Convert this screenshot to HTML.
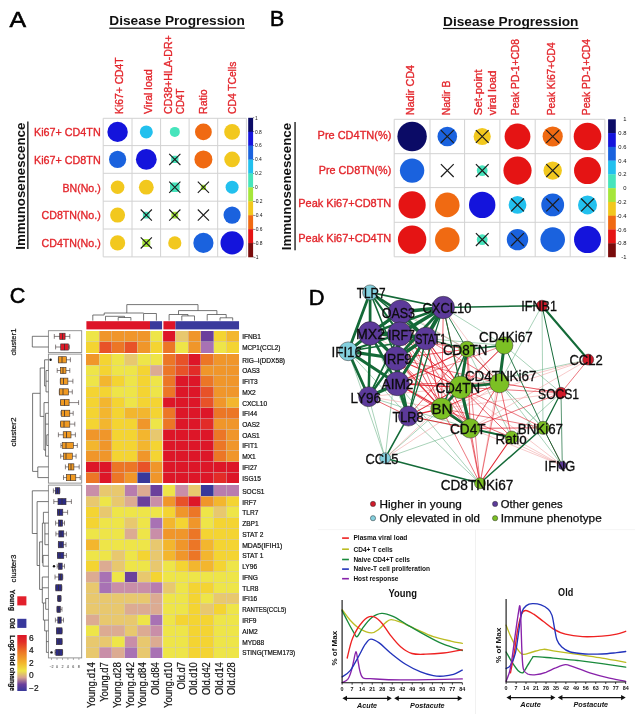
<!DOCTYPE html>
<html><head><meta charset="utf-8"><title>Figure</title>
<style>html,body{margin:0;padding:0;background:#fff}svg{display:block;filter:blur(0.45px)}text{font-family:"Liberation Sans", sans-serif}</style>
</head><body>
<svg width="635" height="714" viewBox="0 0 635 714">
<rect width="635" height="714" fill="#fff"/>
<text x="9.5" y="26.7" font-size="21.6" fill="#000" textLength="16.6" lengthAdjust="spacingAndGlyphs" stroke="#000" stroke-width="0.55">A</text>
<text x="270.0" y="26.4" font-size="21.6" fill="#000" textLength="14.2" lengthAdjust="spacingAndGlyphs" stroke="#000" stroke-width="0.55">B</text>
<text x="9.8" y="302.8" font-size="21.6" fill="#000" textLength="15.6" lengthAdjust="spacingAndGlyphs" stroke="#000" stroke-width="0.55">C</text>
<text x="308.8" y="305.2" font-size="21.6" fill="#000" textLength="15.8" lengthAdjust="spacingAndGlyphs" stroke="#000" stroke-width="0.55">D</text>
<text x="109.3" y="25.3" font-size="13.2" fill="#111" font-weight="bold" textLength="135.5" lengthAdjust="spacingAndGlyphs">Disease Progression</text>
<rect x="109.3" y="27.6" width="135.5" height="1.2" fill="#111"/>
<text x="443.0" y="25.6" font-size="13.2" fill="#111" font-weight="bold" textLength="135.5" lengthAdjust="spacingAndGlyphs">Disease Progression</text>
<rect x="443" y="27.9" width="135.5" height="1.2" fill="#111"/>
<text x="24.8" y="249.8" font-size="13.6" fill="#111" font-weight="bold" textLength="127.2" lengthAdjust="spacingAndGlyphs" transform="rotate(-90 24.8 249.8)">Immunosenescence</text>
<rect x="27.2" y="121.5" width="1.3" height="127.5" fill="#111"/>
<text x="291.4" y="250.3" font-size="13.6" fill="#111" font-weight="bold" textLength="127.5" lengthAdjust="spacingAndGlyphs" transform="rotate(-90 291.4 250.3)">Immunosenescence</text>
<rect x="294.4" y="122" width="1.3" height="128.3" fill="#111"/>
<g stroke="#d2d2d2" stroke-width="1" fill="none">
<line x1="103.2" y1="118.3" x2="103.2" y2="256.9"/>
<line x1="132.0" y1="118.3" x2="132.0" y2="256.9"/>
<line x1="160.6" y1="118.3" x2="160.6" y2="256.9"/>
<line x1="189.1" y1="118.3" x2="189.1" y2="256.9"/>
<line x1="217.7" y1="118.3" x2="217.7" y2="256.9"/>
<line x1="246.4" y1="118.3" x2="246.4" y2="256.9"/>
<line x1="103.2" y1="118.3" x2="246.4" y2="118.3"/>
<line x1="103.2" y1="145.6" x2="246.4" y2="145.6"/>
<line x1="103.2" y1="173.3" x2="246.4" y2="173.3"/>
<line x1="103.2" y1="201.2" x2="246.4" y2="201.2"/>
<line x1="103.2" y1="229.0" x2="246.4" y2="229.0"/>
<line x1="103.2" y1="256.9" x2="246.4" y2="256.9"/>
</g>
<circle cx="117.6" cy="131.9" r="10.2" fill="#1414dc"/>
<circle cx="146.3" cy="131.9" r="6.5" fill="#22c0ee"/>
<circle cx="174.8" cy="131.9" r="5.0" fill="#46e4bc"/>
<circle cx="203.4" cy="131.9" r="8.4" fill="#f06a12"/>
<circle cx="232.1" cy="131.9" r="7.9" fill="#f2c81e"/>
<circle cx="117.6" cy="159.4" r="8.6" fill="#1a62de"/>
<circle cx="146.3" cy="159.4" r="10.4" fill="#1414dc"/>
<rect x="171.2" y="155.8" width="7.2" height="7.2" rx="1.8" fill="#46e4bc"/>
<path d="M169.2 153.8L180.4 165.0M180.4 153.8L169.2 165.0" stroke="#1c1c1c" stroke-width="1.1" fill="none"/>
<circle cx="203.4" cy="159.4" r="9.0" fill="#f06a12"/>
<circle cx="232.1" cy="159.4" r="7.8" fill="#f2c81e"/>
<circle cx="117.6" cy="187.2" r="6.8" fill="#f2c81e"/>
<circle cx="146.3" cy="187.2" r="7.4" fill="#f2c81e"/>
<rect x="170.0" y="182.4" width="9.6" height="9.6" rx="2.4" fill="#46e4bc"/>
<path d="M169.2 181.7L180.4 192.8M180.4 181.7L169.2 192.8" stroke="#1c1c1c" stroke-width="1.1" fill="none"/>
<rect x="200.8" y="184.7" width="5.2" height="5.2" rx="1.3" fill="#a6e63a"/>
<path d="M197.8 181.7L209.0 192.8M209.0 181.7L197.8 192.8" stroke="#1c1c1c" stroke-width="1.1" fill="none"/>
<circle cx="232.1" cy="187.2" r="6.5" fill="#22c0ee"/>
<circle cx="117.6" cy="215.1" r="7.5" fill="#f2c81e"/>
<rect x="142.9" y="211.7" width="6.8" height="6.8" rx="1.7" fill="#46e4bc"/>
<path d="M140.7 209.5L151.9 220.7M151.9 209.5L140.7 220.7" stroke="#1c1c1c" stroke-width="1.1" fill="none"/>
<rect x="171.4" y="211.7" width="6.8" height="6.8" rx="1.7" fill="#a6e63a"/>
<path d="M169.2 209.5L180.4 220.7M180.4 209.5L169.2 220.7" stroke="#1c1c1c" stroke-width="1.1" fill="none"/>
<path d="M197.8 209.5L209.0 220.7M209.0 209.5L197.8 220.7" stroke="#1c1c1c" stroke-width="1.1" fill="none"/>
<circle cx="232.1" cy="215.1" r="8.6" fill="#1a62de"/>
<circle cx="117.6" cy="242.9" r="7.6" fill="#f2c81e"/>
<rect x="142.3" y="238.9" width="8.0" height="8.0" rx="2.0" fill="#a6e63a"/>
<path d="M140.7 237.3L151.9 248.5M151.9 237.3L140.7 248.5" stroke="#1c1c1c" stroke-width="1.1" fill="none"/>
<circle cx="174.8" cy="242.9" r="6.6" fill="#f2c81e"/>
<circle cx="203.4" cy="242.9" r="10.1" fill="#1a62de"/>
<circle cx="232.1" cy="242.9" r="11.6" fill="#1414dc"/>
<rect x="248.2" y="117.80" width="4.9" height="14.2" fill="#0b0b66"/>
<rect x="248.2" y="131.72" width="4.9" height="14.2" fill="#1414dc"/>
<rect x="248.2" y="145.64" width="4.9" height="14.2" fill="#1a62de"/>
<rect x="248.2" y="159.56" width="4.9" height="14.2" fill="#22c0ee"/>
<rect x="248.2" y="173.48" width="4.9" height="14.2" fill="#46e4bc"/>
<rect x="248.2" y="187.40" width="4.9" height="14.2" fill="#a6e63a"/>
<rect x="248.2" y="201.32" width="4.9" height="14.2" fill="#f2c81e"/>
<rect x="248.2" y="215.24" width="4.9" height="14.2" fill="#f06a12"/>
<rect x="248.2" y="229.16" width="4.9" height="14.2" fill="#e51414"/>
<rect x="248.2" y="243.08" width="4.9" height="14.2" fill="#7a0c0c"/>
<rect x="253" y="117.5" width="1.2" height="0.6" fill="#444"/>
<text x="255.0" y="119.6" font-size="4.9" fill="#111">1</text>
<rect x="253" y="131.4" width="1.2" height="0.6" fill="#444"/>
<text x="255.0" y="133.5" font-size="4.9" fill="#111">0.8</text>
<rect x="253" y="145.3" width="1.2" height="0.6" fill="#444"/>
<text x="255.0" y="147.4" font-size="4.9" fill="#111">0.6</text>
<rect x="253" y="159.3" width="1.2" height="0.6" fill="#444"/>
<text x="255.0" y="161.4" font-size="4.9" fill="#111">0.4</text>
<rect x="253" y="173.2" width="1.2" height="0.6" fill="#444"/>
<text x="255.0" y="175.3" font-size="4.9" fill="#111">0.2</text>
<rect x="253" y="187.1" width="1.2" height="0.6" fill="#444"/>
<text x="255.0" y="189.2" font-size="4.9" fill="#111">0</text>
<rect x="253" y="201.0" width="1.2" height="0.6" fill="#444"/>
<text x="254.0" y="203.1" font-size="4.9" fill="#111">-0.2</text>
<rect x="253" y="214.9" width="1.2" height="0.6" fill="#444"/>
<text x="254.0" y="217.0" font-size="4.9" fill="#111">-0.4</text>
<rect x="253" y="228.9" width="1.2" height="0.6" fill="#444"/>
<text x="254.0" y="231.0" font-size="4.9" fill="#111">-0.6</text>
<rect x="253" y="242.8" width="1.2" height="0.6" fill="#444"/>
<text x="254.0" y="244.9" font-size="4.9" fill="#111">-0.8</text>
<rect x="253" y="256.7" width="1.2" height="0.6" fill="#444"/>
<text x="254.0" y="258.8" font-size="4.9" fill="#111">-1</text>
<text x="122.7" y="113.9" font-size="11.2" fill="#e3262c" textLength="56.5" lengthAdjust="spacingAndGlyphs" transform="rotate(-90 122.7 113.9)" stroke="#e3262c" stroke-width="0.35">Ki67+ CD4T</text>
<text x="151.7" y="113.9" font-size="11.2" fill="#e3262c" textLength="44.6" lengthAdjust="spacingAndGlyphs" transform="rotate(-90 151.7 113.9)" stroke="#e3262c" stroke-width="0.35">Viral load</text>
<text x="171.7" y="113.9" font-size="11.2" fill="#e3262c" textLength="78.6" lengthAdjust="spacingAndGlyphs" transform="rotate(-90 171.7 113.9)" stroke="#e3262c" stroke-width="0.35">CD38+HLA-DR+</text>
<text x="184.3" y="113.9" font-size="11.2" fill="#e3262c" textLength="25.2" lengthAdjust="spacingAndGlyphs" transform="rotate(-90 184.3 113.9)" stroke="#e3262c" stroke-width="0.35">CD4T</text>
<text x="207.4" y="113.9" font-size="11.2" fill="#e3262c" textLength="24.5" lengthAdjust="spacingAndGlyphs" transform="rotate(-90 207.4 113.9)" stroke="#e3262c" stroke-width="0.35">Ratio</text>
<text x="235.9" y="113.9" font-size="11.2" fill="#e3262c" textLength="52.2" lengthAdjust="spacingAndGlyphs" transform="rotate(-90 235.9 113.9)" stroke="#e3262c" stroke-width="0.35">CD4 TCells</text>
<text x="34.0" y="135.6" font-size="11.2" fill="#e3262c" textLength="66.7" lengthAdjust="spacingAndGlyphs" stroke="#e3262c" stroke-width="0.35">Ki67+ CD4TN</text>
<text x="34.0" y="163.7" font-size="11.2" fill="#e3262c" textLength="66.7" lengthAdjust="spacingAndGlyphs" stroke="#e3262c" stroke-width="0.35">Ki67+ CD8TN</text>
<text x="62.5" y="191.6" font-size="11.2" fill="#e3262c" textLength="38.2" lengthAdjust="spacingAndGlyphs" stroke="#e3262c" stroke-width="0.35">BN(No.)</text>
<text x="41.6" y="219.3" font-size="11.2" fill="#e3262c" textLength="59.1" lengthAdjust="spacingAndGlyphs" stroke="#e3262c" stroke-width="0.35">CD8TN(No.)</text>
<text x="41.6" y="247.0" font-size="11.2" fill="#e3262c" textLength="59.1" lengthAdjust="spacingAndGlyphs" stroke="#e3262c" stroke-width="0.35">CD4TN(No.)</text>
<g stroke="#d2d2d2" stroke-width="1" fill="none">
<line x1="394.2" y1="119.3" x2="394.2" y2="256.8"/>
<line x1="430.0" y1="119.3" x2="430.0" y2="256.8"/>
<line x1="464.6" y1="119.3" x2="464.6" y2="256.8"/>
<line x1="499.9" y1="119.3" x2="499.9" y2="256.8"/>
<line x1="535.2" y1="119.3" x2="535.2" y2="256.8"/>
<line x1="570.2" y1="119.3" x2="570.2" y2="256.8"/>
<line x1="604.9" y1="119.3" x2="604.9" y2="256.8"/>
<line x1="394.2" y1="119.3" x2="604.9" y2="119.3"/>
<line x1="394.2" y1="153.7" x2="604.9" y2="153.7"/>
<line x1="394.2" y1="187.6" x2="604.9" y2="187.6"/>
<line x1="394.2" y1="222.3" x2="604.9" y2="222.3"/>
<line x1="394.2" y1="256.8" x2="604.9" y2="256.8"/>
</g>
<circle cx="412.1" cy="136.5" r="14.7" fill="#0b0b66"/>
<circle cx="447.3" cy="136.5" r="9.8" fill="#1a62de"/>
<path d="M440.9 130.1L453.7 142.9M453.7 130.1L440.9 142.9" stroke="#1c1c1c" stroke-width="1.2" fill="none"/>
<circle cx="482.2" cy="136.5" r="8.6" fill="#f2c81e"/>
<path d="M475.9 130.1L488.6 142.9M488.6 130.1L475.9 142.9" stroke="#1c1c1c" stroke-width="1.2" fill="none"/>
<circle cx="517.5" cy="136.5" r="12.9" fill="#e51414"/>
<circle cx="552.7" cy="136.5" r="10.1" fill="#f06a12"/>
<path d="M546.3 130.1L559.1 142.9M559.1 130.1L546.3 142.9" stroke="#1c1c1c" stroke-width="1.2" fill="none"/>
<circle cx="587.5" cy="136.5" r="13.8" fill="#e51414"/>
<circle cx="412.1" cy="170.6" r="12.2" fill="#1a62de"/>
<path d="M440.9 164.2L453.7 177.0M453.7 164.2L440.9 177.0" stroke="#1c1c1c" stroke-width="1.2" fill="none"/>
<circle cx="482.2" cy="170.6" r="5.4" fill="#46e4bc"/>
<path d="M475.9 164.2L488.6 177.0M488.6 164.2L475.9 177.0" stroke="#1c1c1c" stroke-width="1.2" fill="none"/>
<circle cx="517.5" cy="170.6" r="14.1" fill="#e51414"/>
<circle cx="552.7" cy="170.6" r="9.2" fill="#f2c81e"/>
<path d="M546.3 164.2L559.1 177.0M559.1 164.2L546.3 177.0" stroke="#1c1c1c" stroke-width="1.2" fill="none"/>
<circle cx="587.5" cy="170.6" r="13.5" fill="#e51414"/>
<circle cx="412.1" cy="204.9" r="13.6" fill="#e51414"/>
<circle cx="447.3" cy="204.9" r="12.3" fill="#f06a12"/>
<circle cx="482.2" cy="204.9" r="13.2" fill="#1414dc"/>
<circle cx="517.5" cy="204.9" r="8.9" fill="#22c0ee"/>
<path d="M511.1 198.5L523.9 211.3M523.9 198.5L511.1 211.3" stroke="#1c1c1c" stroke-width="1.2" fill="none"/>
<circle cx="552.7" cy="204.9" r="11.4" fill="#1a62de"/>
<path d="M546.3 198.5L559.1 211.3M559.1 198.5L546.3 211.3" stroke="#1c1c1c" stroke-width="1.2" fill="none"/>
<circle cx="587.5" cy="204.9" r="9.5" fill="#22c0ee"/>
<path d="M581.1 198.5L593.9 211.3M593.9 198.5L581.1 211.3" stroke="#1c1c1c" stroke-width="1.2" fill="none"/>
<circle cx="412.1" cy="239.6" r="14.2" fill="#e51414"/>
<circle cx="447.3" cy="239.6" r="12.3" fill="#f06a12"/>
<circle cx="482.2" cy="239.6" r="5.4" fill="#46e4bc"/>
<path d="M475.9 233.2L488.6 246.0M488.6 233.2L475.9 246.0" stroke="#1c1c1c" stroke-width="1.2" fill="none"/>
<circle cx="517.5" cy="239.6" r="10.7" fill="#1a62de"/>
<path d="M511.1 233.2L523.9 246.0M523.9 233.2L511.1 246.0" stroke="#1c1c1c" stroke-width="1.2" fill="none"/>
<circle cx="552.7" cy="239.6" r="12.3" fill="#1a62de"/>
<circle cx="587.5" cy="239.6" r="13.5" fill="#1414dc"/>
<rect x="608.1" y="119.30" width="7.7" height="14.0" fill="#0b0b66"/>
<rect x="608.1" y="133.07" width="7.7" height="14.0" fill="#1414dc"/>
<rect x="608.1" y="146.84" width="7.7" height="14.0" fill="#1a62de"/>
<rect x="608.1" y="160.61" width="7.7" height="14.0" fill="#22c0ee"/>
<rect x="608.1" y="174.38" width="7.7" height="14.0" fill="#46e4bc"/>
<rect x="608.1" y="188.15" width="7.7" height="14.0" fill="#a6e63a"/>
<rect x="608.1" y="201.92" width="7.7" height="14.0" fill="#f2c81e"/>
<rect x="608.1" y="215.69" width="7.7" height="14.0" fill="#f06a12"/>
<rect x="608.1" y="229.46" width="7.7" height="14.0" fill="#e51414"/>
<rect x="608.1" y="243.23" width="7.7" height="14.0" fill="#7a0c0c"/>
<text x="626.4" y="121.3" font-size="5.8" fill="#111" text-anchor="end">1</text>
<text x="626.4" y="135.1" font-size="5.8" fill="#111" text-anchor="end">0.8</text>
<text x="626.4" y="148.8" font-size="5.8" fill="#111" text-anchor="end">0.6</text>
<text x="626.4" y="162.6" font-size="5.8" fill="#111" text-anchor="end">0.4</text>
<text x="626.4" y="176.4" font-size="5.8" fill="#111" text-anchor="end">0.2</text>
<text x="626.4" y="190.1" font-size="5.8" fill="#111" text-anchor="end">0</text>
<text x="626.4" y="203.9" font-size="5.8" fill="#111" text-anchor="end">-0.2</text>
<text x="626.4" y="217.7" font-size="5.8" fill="#111" text-anchor="end">-0.4</text>
<text x="626.4" y="231.5" font-size="5.8" fill="#111" text-anchor="end">-0.6</text>
<text x="626.4" y="245.2" font-size="5.8" fill="#111" text-anchor="end">-0.8</text>
<text x="626.4" y="259.0" font-size="5.8" fill="#111" text-anchor="end">-1</text>
<text x="414.3" y="115.3" font-size="11.2" fill="#e3262c" textLength="50.4" lengthAdjust="spacingAndGlyphs" transform="rotate(-90 414.3 115.3)" stroke="#e3262c" stroke-width="0.35">Nadir CD4</text>
<text x="449.8" y="115.2" font-size="11.2" fill="#e3262c" textLength="34.5" lengthAdjust="spacingAndGlyphs" transform="rotate(-90 449.8 115.2)" stroke="#e3262c" stroke-width="0.35">Nadir B</text>
<text x="482.3" y="115.2" font-size="11.2" fill="#e3262c" textLength="45.7" lengthAdjust="spacingAndGlyphs" transform="rotate(-90 482.3 115.2)" stroke="#e3262c" stroke-width="0.35">Set-point</text>
<text x="495.8" y="115.2" font-size="11.2" fill="#e3262c" textLength="44.7" lengthAdjust="spacingAndGlyphs" transform="rotate(-90 495.8 115.2)" stroke="#e3262c" stroke-width="0.35">viral load</text>
<text x="519.5" y="115.2" font-size="11.2" fill="#e3262c" textLength="76.2" lengthAdjust="spacingAndGlyphs" transform="rotate(-90 519.5 115.2)" stroke="#e3262c" stroke-width="0.35">Peak PD-1+CD8</text>
<text x="555.1" y="115.2" font-size="11.2" fill="#e3262c" textLength="72.8" lengthAdjust="spacingAndGlyphs" transform="rotate(-90 555.1 115.2)" stroke="#e3262c" stroke-width="0.35">Peak Ki67+CD4</text>
<text x="590.3" y="115.2" font-size="11.2" fill="#e3262c" textLength="76.2" lengthAdjust="spacingAndGlyphs" transform="rotate(-90 590.3 115.2)" stroke="#e3262c" stroke-width="0.35">Peak PD-1+CD4</text>
<text x="317.6" y="138.9" font-size="11.2" fill="#e3262c" textLength="73.7" lengthAdjust="spacingAndGlyphs" stroke="#e3262c" stroke-width="0.35">Pre CD4TN(%)</text>
<text x="318.8" y="173.5" font-size="11.2" fill="#e3262c" textLength="72.5" lengthAdjust="spacingAndGlyphs" stroke="#e3262c" stroke-width="0.35">Pre CD8TN(%)</text>
<text x="298.3" y="206.9" font-size="11.2" fill="#e3262c" textLength="93.0" lengthAdjust="spacingAndGlyphs" stroke="#e3262c" stroke-width="0.35">Peak Ki67+CD8TN</text>
<text x="298.3" y="241.5" font-size="11.2" fill="#e3262c" textLength="93.0" lengthAdjust="spacingAndGlyphs" stroke="#e3262c" stroke-width="0.35">Peak Ki67+CD4TN</text>
<g shape-rendering="crispEdges">
<rect x="86.40" y="331.00" width="13.02" height="11.00" fill="#eee548"/>
<rect x="99.12" y="331.00" width="13.02" height="11.00" fill="#f0962a"/>
<rect x="111.84" y="331.00" width="13.02" height="11.00" fill="#f0962a"/>
<rect x="124.56" y="331.00" width="13.02" height="11.00" fill="#f0962a"/>
<rect x="137.28" y="331.00" width="13.02" height="11.00" fill="#f0962a"/>
<rect x="150.00" y="331.00" width="13.02" height="11.00" fill="#eee548"/>
<rect x="162.72" y="331.00" width="13.02" height="11.00" fill="#dd1628"/>
<rect x="175.44" y="331.00" width="13.02" height="11.00" fill="#e8c86e"/>
<rect x="188.16" y="331.00" width="13.02" height="11.00" fill="#f0962a"/>
<rect x="200.88" y="331.00" width="13.02" height="11.00" fill="#6b3f9c"/>
<rect x="213.60" y="331.00" width="13.02" height="11.00" fill="#f4d432"/>
<rect x="226.32" y="331.00" width="13.02" height="11.00" fill="#f3b62e"/>
<rect x="86.40" y="341.70" width="13.02" height="11.00" fill="#f4d432"/>
<rect x="99.12" y="341.70" width="13.02" height="11.00" fill="#e85228"/>
<rect x="111.84" y="341.70" width="13.02" height="11.00" fill="#ec7626"/>
<rect x="124.56" y="341.70" width="13.02" height="11.00" fill="#e85228"/>
<rect x="137.28" y="341.70" width="13.02" height="11.00" fill="#f0962a"/>
<rect x="150.00" y="341.70" width="13.02" height="11.00" fill="#f4d432"/>
<rect x="162.72" y="341.70" width="13.02" height="11.00" fill="#ec7626"/>
<rect x="175.44" y="341.70" width="13.02" height="11.00" fill="#eee548"/>
<rect x="188.16" y="341.70" width="13.02" height="11.00" fill="#f0962a"/>
<rect x="200.88" y="341.70" width="13.02" height="11.00" fill="#a872b4"/>
<rect x="213.60" y="341.70" width="13.02" height="11.00" fill="#eee548"/>
<rect x="226.32" y="341.70" width="13.02" height="11.00" fill="#f4d432"/>
<g stroke="#cdc8c6" stroke-width="0.6" opacity="0.8">
<line x1="86.4" y1="341.70" x2="239.04" y2="341.70"/>
<line x1="99.12" y1="331.0" x2="99.12" y2="352.4"/>
<line x1="111.84" y1="331.0" x2="111.84" y2="352.4"/>
<line x1="124.56" y1="331.0" x2="124.56" y2="352.4"/>
<line x1="137.28" y1="331.0" x2="137.28" y2="352.4"/>
<line x1="150.00" y1="331.0" x2="150.00" y2="352.4"/>
<line x1="162.72" y1="331.0" x2="162.72" y2="352.4"/>
<line x1="175.44" y1="331.0" x2="175.44" y2="352.4"/>
<line x1="188.16" y1="331.0" x2="188.16" y2="352.4"/>
<line x1="200.88" y1="331.0" x2="200.88" y2="352.4"/>
<line x1="213.60" y1="331.0" x2="213.60" y2="352.4"/>
<line x1="226.32" y1="331.0" x2="226.32" y2="352.4"/>
</g>
<rect x="86.40" y="354.40" width="13.02" height="11.02" fill="#f0962a"/>
<rect x="99.12" y="354.40" width="13.02" height="11.02" fill="#f4d432"/>
<rect x="111.84" y="354.40" width="13.02" height="11.02" fill="#eee548"/>
<rect x="124.56" y="354.40" width="13.02" height="11.02" fill="#e8c86e"/>
<rect x="137.28" y="354.40" width="13.02" height="11.02" fill="#eee548"/>
<rect x="150.00" y="354.40" width="13.02" height="11.02" fill="#eee548"/>
<rect x="162.72" y="354.40" width="13.02" height="11.02" fill="#ec7626"/>
<rect x="175.44" y="354.40" width="13.02" height="11.02" fill="#e85228"/>
<rect x="188.16" y="354.40" width="13.02" height="11.02" fill="#dd1628"/>
<rect x="200.88" y="354.40" width="13.02" height="11.02" fill="#ec7626"/>
<rect x="213.60" y="354.40" width="13.02" height="11.02" fill="#f0962a"/>
<rect x="226.32" y="354.40" width="13.02" height="11.02" fill="#f0962a"/>
<rect x="86.40" y="365.12" width="13.02" height="11.02" fill="#eee548"/>
<rect x="99.12" y="365.12" width="13.02" height="11.02" fill="#f4d432"/>
<rect x="111.84" y="365.12" width="13.02" height="11.02" fill="#eee548"/>
<rect x="124.56" y="365.12" width="13.02" height="11.02" fill="#eee548"/>
<rect x="137.28" y="365.12" width="13.02" height="11.02" fill="#f4d432"/>
<rect x="150.00" y="365.12" width="13.02" height="11.02" fill="#dcab92"/>
<rect x="162.72" y="365.12" width="13.02" height="11.02" fill="#ec7626"/>
<rect x="175.44" y="365.12" width="13.02" height="11.02" fill="#e85228"/>
<rect x="188.16" y="365.12" width="13.02" height="11.02" fill="#e22c28"/>
<rect x="200.88" y="365.12" width="13.02" height="11.02" fill="#f0962a"/>
<rect x="213.60" y="365.12" width="13.02" height="11.02" fill="#f0962a"/>
<rect x="226.32" y="365.12" width="13.02" height="11.02" fill="#f0962a"/>
<rect x="86.40" y="375.83" width="13.02" height="11.02" fill="#eee548"/>
<rect x="99.12" y="375.83" width="13.02" height="11.02" fill="#f3b62e"/>
<rect x="111.84" y="375.83" width="13.02" height="11.02" fill="#f4d432"/>
<rect x="124.56" y="375.83" width="13.02" height="11.02" fill="#eee548"/>
<rect x="137.28" y="375.83" width="13.02" height="11.02" fill="#f4d432"/>
<rect x="150.00" y="375.83" width="13.02" height="11.02" fill="#eee548"/>
<rect x="162.72" y="375.83" width="13.02" height="11.02" fill="#ec7626"/>
<rect x="175.44" y="375.83" width="13.02" height="11.02" fill="#dd1628"/>
<rect x="188.16" y="375.83" width="13.02" height="11.02" fill="#dd1628"/>
<rect x="200.88" y="375.83" width="13.02" height="11.02" fill="#ec7626"/>
<rect x="213.60" y="375.83" width="13.02" height="11.02" fill="#f0962a"/>
<rect x="226.32" y="375.83" width="13.02" height="11.02" fill="#f0962a"/>
<rect x="86.40" y="386.55" width="13.02" height="11.02" fill="#f4d432"/>
<rect x="99.12" y="386.55" width="13.02" height="11.02" fill="#f4d432"/>
<rect x="111.84" y="386.55" width="13.02" height="11.02" fill="#eee548"/>
<rect x="124.56" y="386.55" width="13.02" height="11.02" fill="#eee548"/>
<rect x="137.28" y="386.55" width="13.02" height="11.02" fill="#f4d432"/>
<rect x="150.00" y="386.55" width="13.02" height="11.02" fill="#eee548"/>
<rect x="162.72" y="386.55" width="13.02" height="11.02" fill="#ec7626"/>
<rect x="175.44" y="386.55" width="13.02" height="11.02" fill="#dd1628"/>
<rect x="188.16" y="386.55" width="13.02" height="11.02" fill="#dd1628"/>
<rect x="200.88" y="386.55" width="13.02" height="11.02" fill="#e85228"/>
<rect x="213.60" y="386.55" width="13.02" height="11.02" fill="#f0962a"/>
<rect x="226.32" y="386.55" width="13.02" height="11.02" fill="#f0962a"/>
<rect x="86.40" y="397.27" width="13.02" height="11.02" fill="#f4d432"/>
<rect x="99.12" y="397.27" width="13.02" height="11.02" fill="#f3b62e"/>
<rect x="111.84" y="397.27" width="13.02" height="11.02" fill="#f4d432"/>
<rect x="124.56" y="397.27" width="13.02" height="11.02" fill="#eee548"/>
<rect x="137.28" y="397.27" width="13.02" height="11.02" fill="#f4d432"/>
<rect x="150.00" y="397.27" width="13.02" height="11.02" fill="#f4d432"/>
<rect x="162.72" y="397.27" width="13.02" height="11.02" fill="#dd1628"/>
<rect x="175.44" y="397.27" width="13.02" height="11.02" fill="#dd1628"/>
<rect x="188.16" y="397.27" width="13.02" height="11.02" fill="#dd1628"/>
<rect x="200.88" y="397.27" width="13.02" height="11.02" fill="#e85228"/>
<rect x="213.60" y="397.27" width="13.02" height="11.02" fill="#f0962a"/>
<rect x="226.32" y="397.27" width="13.02" height="11.02" fill="#f3b62e"/>
<rect x="86.40" y="407.98" width="13.02" height="11.02" fill="#f4d432"/>
<rect x="99.12" y="407.98" width="13.02" height="11.02" fill="#f3b62e"/>
<rect x="111.84" y="407.98" width="13.02" height="11.02" fill="#f4d432"/>
<rect x="124.56" y="407.98" width="13.02" height="11.02" fill="#f3b62e"/>
<rect x="137.28" y="407.98" width="13.02" height="11.02" fill="#f3b62e"/>
<rect x="150.00" y="407.98" width="13.02" height="11.02" fill="#f4d432"/>
<rect x="162.72" y="407.98" width="13.02" height="11.02" fill="#ec7626"/>
<rect x="175.44" y="407.98" width="13.02" height="11.02" fill="#dd1628"/>
<rect x="188.16" y="407.98" width="13.02" height="11.02" fill="#dd1628"/>
<rect x="200.88" y="407.98" width="13.02" height="11.02" fill="#dd1628"/>
<rect x="213.60" y="407.98" width="13.02" height="11.02" fill="#ec7626"/>
<rect x="226.32" y="407.98" width="13.02" height="11.02" fill="#ec7626"/>
<rect x="86.40" y="418.70" width="13.02" height="11.02" fill="#f4d432"/>
<rect x="99.12" y="418.70" width="13.02" height="11.02" fill="#f3b62e"/>
<rect x="111.84" y="418.70" width="13.02" height="11.02" fill="#f4d432"/>
<rect x="124.56" y="418.70" width="13.02" height="11.02" fill="#f4d432"/>
<rect x="137.28" y="418.70" width="13.02" height="11.02" fill="#f0962a"/>
<rect x="150.00" y="418.70" width="13.02" height="11.02" fill="#eee548"/>
<rect x="162.72" y="418.70" width="13.02" height="11.02" fill="#ec7626"/>
<rect x="175.44" y="418.70" width="13.02" height="11.02" fill="#dd1628"/>
<rect x="188.16" y="418.70" width="13.02" height="11.02" fill="#dd1628"/>
<rect x="200.88" y="418.70" width="13.02" height="11.02" fill="#e22c28"/>
<rect x="213.60" y="418.70" width="13.02" height="11.02" fill="#f0962a"/>
<rect x="226.32" y="418.70" width="13.02" height="11.02" fill="#f0962a"/>
<rect x="86.40" y="429.42" width="13.02" height="11.02" fill="#f0962a"/>
<rect x="99.12" y="429.42" width="13.02" height="11.02" fill="#f0962a"/>
<rect x="111.84" y="429.42" width="13.02" height="11.02" fill="#f4d432"/>
<rect x="124.56" y="429.42" width="13.02" height="11.02" fill="#f4d432"/>
<rect x="137.28" y="429.42" width="13.02" height="11.02" fill="#f3b62e"/>
<rect x="150.00" y="429.42" width="13.02" height="11.02" fill="#e8c86e"/>
<rect x="162.72" y="429.42" width="13.02" height="11.02" fill="#dd1628"/>
<rect x="175.44" y="429.42" width="13.02" height="11.02" fill="#dd1628"/>
<rect x="188.16" y="429.42" width="13.02" height="11.02" fill="#dd1628"/>
<rect x="200.88" y="429.42" width="13.02" height="11.02" fill="#dd1628"/>
<rect x="213.60" y="429.42" width="13.02" height="11.02" fill="#ec7626"/>
<rect x="226.32" y="429.42" width="13.02" height="11.02" fill="#f0962a"/>
<rect x="86.40" y="440.13" width="13.02" height="11.02" fill="#f3b62e"/>
<rect x="99.12" y="440.13" width="13.02" height="11.02" fill="#f0962a"/>
<rect x="111.84" y="440.13" width="13.02" height="11.02" fill="#f4d432"/>
<rect x="124.56" y="440.13" width="13.02" height="11.02" fill="#f4d432"/>
<rect x="137.28" y="440.13" width="13.02" height="11.02" fill="#f3b62e"/>
<rect x="150.00" y="440.13" width="13.02" height="11.02" fill="#f4d432"/>
<rect x="162.72" y="440.13" width="13.02" height="11.02" fill="#dd1628"/>
<rect x="175.44" y="440.13" width="13.02" height="11.02" fill="#dd1628"/>
<rect x="188.16" y="440.13" width="13.02" height="11.02" fill="#dd1628"/>
<rect x="200.88" y="440.13" width="13.02" height="11.02" fill="#dd1628"/>
<rect x="213.60" y="440.13" width="13.02" height="11.02" fill="#ec7626"/>
<rect x="226.32" y="440.13" width="13.02" height="11.02" fill="#f0962a"/>
<rect x="86.40" y="450.85" width="13.02" height="11.02" fill="#f0962a"/>
<rect x="99.12" y="450.85" width="13.02" height="11.02" fill="#f0962a"/>
<rect x="111.84" y="450.85" width="13.02" height="11.02" fill="#f4d432"/>
<rect x="124.56" y="450.85" width="13.02" height="11.02" fill="#f4d432"/>
<rect x="137.28" y="450.85" width="13.02" height="11.02" fill="#f0962a"/>
<rect x="150.00" y="450.85" width="13.02" height="11.02" fill="#f4d432"/>
<rect x="162.72" y="450.85" width="13.02" height="11.02" fill="#dd1628"/>
<rect x="175.44" y="450.85" width="13.02" height="11.02" fill="#dd1628"/>
<rect x="188.16" y="450.85" width="13.02" height="11.02" fill="#dd1628"/>
<rect x="200.88" y="450.85" width="13.02" height="11.02" fill="#dd1628"/>
<rect x="213.60" y="450.85" width="13.02" height="11.02" fill="#ec7626"/>
<rect x="226.32" y="450.85" width="13.02" height="11.02" fill="#f0962a"/>
<rect x="86.40" y="461.57" width="13.02" height="11.02" fill="#dd1628"/>
<rect x="99.12" y="461.57" width="13.02" height="11.02" fill="#dd1628"/>
<rect x="111.84" y="461.57" width="13.02" height="11.02" fill="#ec7626"/>
<rect x="124.56" y="461.57" width="13.02" height="11.02" fill="#ec7626"/>
<rect x="137.28" y="461.57" width="13.02" height="11.02" fill="#e85228"/>
<rect x="150.00" y="461.57" width="13.02" height="11.02" fill="#f0962a"/>
<rect x="162.72" y="461.57" width="13.02" height="11.02" fill="#dd1628"/>
<rect x="175.44" y="461.57" width="13.02" height="11.02" fill="#dd1628"/>
<rect x="188.16" y="461.57" width="13.02" height="11.02" fill="#dd1628"/>
<rect x="200.88" y="461.57" width="13.02" height="11.02" fill="#dd1628"/>
<rect x="213.60" y="461.57" width="13.02" height="11.02" fill="#dd1628"/>
<rect x="226.32" y="461.57" width="13.02" height="11.02" fill="#dd1628"/>
<rect x="86.40" y="472.28" width="13.02" height="11.02" fill="#ec7626"/>
<rect x="99.12" y="472.28" width="13.02" height="11.02" fill="#dd1628"/>
<rect x="111.84" y="472.28" width="13.02" height="11.02" fill="#ec7626"/>
<rect x="124.56" y="472.28" width="13.02" height="11.02" fill="#f0962a"/>
<rect x="137.28" y="472.28" width="13.02" height="11.02" fill="#38389a"/>
<rect x="150.00" y="472.28" width="13.02" height="11.02" fill="#f0962a"/>
<rect x="162.72" y="472.28" width="13.02" height="11.02" fill="#dd1628"/>
<rect x="175.44" y="472.28" width="13.02" height="11.02" fill="#dd1628"/>
<rect x="188.16" y="472.28" width="13.02" height="11.02" fill="#dd1628"/>
<rect x="200.88" y="472.28" width="13.02" height="11.02" fill="#dd1628"/>
<rect x="213.60" y="472.28" width="13.02" height="11.02" fill="#e22c28"/>
<rect x="226.32" y="472.28" width="13.02" height="11.02" fill="#dd1628"/>
<g stroke="#cdc8c6" stroke-width="0.6" opacity="0.8">
<line x1="86.4" y1="365.12" x2="239.04" y2="365.12"/>
<line x1="86.4" y1="375.83" x2="239.04" y2="375.83"/>
<line x1="86.4" y1="386.55" x2="239.04" y2="386.55"/>
<line x1="86.4" y1="397.27" x2="239.04" y2="397.27"/>
<line x1="86.4" y1="407.98" x2="239.04" y2="407.98"/>
<line x1="86.4" y1="418.70" x2="239.04" y2="418.70"/>
<line x1="86.4" y1="429.42" x2="239.04" y2="429.42"/>
<line x1="86.4" y1="440.13" x2="239.04" y2="440.13"/>
<line x1="86.4" y1="450.85" x2="239.04" y2="450.85"/>
<line x1="86.4" y1="461.57" x2="239.04" y2="461.57"/>
<line x1="86.4" y1="472.28" x2="239.04" y2="472.28"/>
<line x1="99.12" y1="354.4" x2="99.12" y2="483.0"/>
<line x1="111.84" y1="354.4" x2="111.84" y2="483.0"/>
<line x1="124.56" y1="354.4" x2="124.56" y2="483.0"/>
<line x1="137.28" y1="354.4" x2="137.28" y2="483.0"/>
<line x1="150.00" y1="354.4" x2="150.00" y2="483.0"/>
<line x1="162.72" y1="354.4" x2="162.72" y2="483.0"/>
<line x1="175.44" y1="354.4" x2="175.44" y2="483.0"/>
<line x1="188.16" y1="354.4" x2="188.16" y2="483.0"/>
<line x1="200.88" y1="354.4" x2="200.88" y2="483.0"/>
<line x1="213.60" y1="354.4" x2="213.60" y2="483.0"/>
<line x1="226.32" y1="354.4" x2="226.32" y2="483.0"/>
</g>
<rect x="86.40" y="485.40" width="13.02" height="11.07" fill="#c98ea8"/>
<rect x="99.12" y="485.40" width="13.02" height="11.07" fill="#e8c86e"/>
<rect x="111.84" y="485.40" width="13.02" height="11.07" fill="#e8c86e"/>
<rect x="124.56" y="485.40" width="13.02" height="11.07" fill="#b87cae"/>
<rect x="137.28" y="485.40" width="13.02" height="11.07" fill="#dcab92"/>
<rect x="150.00" y="485.40" width="13.02" height="11.07" fill="#6b3f9c"/>
<rect x="162.72" y="485.40" width="13.02" height="11.07" fill="#eee548"/>
<rect x="175.44" y="485.40" width="13.02" height="11.07" fill="#c98ea8"/>
<rect x="188.16" y="485.40" width="13.02" height="11.07" fill="#e8c86e"/>
<rect x="200.88" y="485.40" width="13.02" height="11.07" fill="#38389a"/>
<rect x="213.60" y="485.40" width="13.02" height="11.07" fill="#b87cae"/>
<rect x="226.32" y="485.40" width="13.02" height="11.07" fill="#b87cae"/>
<rect x="86.40" y="496.17" width="13.02" height="11.07" fill="#e8c86e"/>
<rect x="99.12" y="496.17" width="13.02" height="11.07" fill="#eee548"/>
<rect x="111.84" y="496.17" width="13.02" height="11.07" fill="#e8c86e"/>
<rect x="124.56" y="496.17" width="13.02" height="11.07" fill="#dcab92"/>
<rect x="137.28" y="496.17" width="13.02" height="11.07" fill="#6b3f9c"/>
<rect x="150.00" y="496.17" width="13.02" height="11.07" fill="#c98ea8"/>
<rect x="162.72" y="496.17" width="13.02" height="11.07" fill="#f0962a"/>
<rect x="175.44" y="496.17" width="13.02" height="11.07" fill="#e85228"/>
<rect x="188.16" y="496.17" width="13.02" height="11.07" fill="#dd1628"/>
<rect x="200.88" y="496.17" width="13.02" height="11.07" fill="#f0962a"/>
<rect x="213.60" y="496.17" width="13.02" height="11.07" fill="#f3b62e"/>
<rect x="226.32" y="496.17" width="13.02" height="11.07" fill="#f4d432"/>
<rect x="86.40" y="506.95" width="13.02" height="11.07" fill="#f4d432"/>
<rect x="99.12" y="506.95" width="13.02" height="11.07" fill="#e8c86e"/>
<rect x="111.84" y="506.95" width="13.02" height="11.07" fill="#eee548"/>
<rect x="124.56" y="506.95" width="13.02" height="11.07" fill="#eee548"/>
<rect x="137.28" y="506.95" width="13.02" height="11.07" fill="#eee548"/>
<rect x="150.00" y="506.95" width="13.02" height="11.07" fill="#eee548"/>
<rect x="162.72" y="506.95" width="13.02" height="11.07" fill="#f4d432"/>
<rect x="175.44" y="506.95" width="13.02" height="11.07" fill="#f0962a"/>
<rect x="188.16" y="506.95" width="13.02" height="11.07" fill="#ec7626"/>
<rect x="200.88" y="506.95" width="13.02" height="11.07" fill="#eee548"/>
<rect x="213.60" y="506.95" width="13.02" height="11.07" fill="#e8c86e"/>
<rect x="226.32" y="506.95" width="13.02" height="11.07" fill="#eee548"/>
<rect x="86.40" y="517.73" width="13.02" height="11.07" fill="#f4d432"/>
<rect x="99.12" y="517.73" width="13.02" height="11.07" fill="#eee548"/>
<rect x="111.84" y="517.73" width="13.02" height="11.07" fill="#eee548"/>
<rect x="124.56" y="517.73" width="13.02" height="11.07" fill="#e8c86e"/>
<rect x="137.28" y="517.73" width="13.02" height="11.07" fill="#eee548"/>
<rect x="150.00" y="517.73" width="13.02" height="11.07" fill="#a872b4"/>
<rect x="162.72" y="517.73" width="13.02" height="11.07" fill="#f3b62e"/>
<rect x="175.44" y="517.73" width="13.02" height="11.07" fill="#f4d432"/>
<rect x="188.16" y="517.73" width="13.02" height="11.07" fill="#f0962a"/>
<rect x="200.88" y="517.73" width="13.02" height="11.07" fill="#eee548"/>
<rect x="213.60" y="517.73" width="13.02" height="11.07" fill="#f4d432"/>
<rect x="226.32" y="517.73" width="13.02" height="11.07" fill="#f4d432"/>
<rect x="86.40" y="528.50" width="13.02" height="11.07" fill="#eee548"/>
<rect x="99.12" y="528.50" width="13.02" height="11.07" fill="#eee548"/>
<rect x="111.84" y="528.50" width="13.02" height="11.07" fill="#eee548"/>
<rect x="124.56" y="528.50" width="13.02" height="11.07" fill="#dcab92"/>
<rect x="137.28" y="528.50" width="13.02" height="11.07" fill="#eee548"/>
<rect x="150.00" y="528.50" width="13.02" height="11.07" fill="#c98ea8"/>
<rect x="162.72" y="528.50" width="13.02" height="11.07" fill="#f0962a"/>
<rect x="175.44" y="528.50" width="13.02" height="11.07" fill="#f0962a"/>
<rect x="188.16" y="528.50" width="13.02" height="11.07" fill="#ec7626"/>
<rect x="200.88" y="528.50" width="13.02" height="11.07" fill="#f4d432"/>
<rect x="213.60" y="528.50" width="13.02" height="11.07" fill="#f4d432"/>
<rect x="226.32" y="528.50" width="13.02" height="11.07" fill="#f4d432"/>
<rect x="86.40" y="539.27" width="13.02" height="11.07" fill="#f3b62e"/>
<rect x="99.12" y="539.27" width="13.02" height="11.07" fill="#eee548"/>
<rect x="111.84" y="539.27" width="13.02" height="11.07" fill="#eee548"/>
<rect x="124.56" y="539.27" width="13.02" height="11.07" fill="#eee548"/>
<rect x="137.28" y="539.27" width="13.02" height="11.07" fill="#eee548"/>
<rect x="150.00" y="539.27" width="13.02" height="11.07" fill="#e8c86e"/>
<rect x="162.72" y="539.27" width="13.02" height="11.07" fill="#f3b62e"/>
<rect x="175.44" y="539.27" width="13.02" height="11.07" fill="#f0962a"/>
<rect x="188.16" y="539.27" width="13.02" height="11.07" fill="#ec7626"/>
<rect x="200.88" y="539.27" width="13.02" height="11.07" fill="#f3b62e"/>
<rect x="213.60" y="539.27" width="13.02" height="11.07" fill="#f4d432"/>
<rect x="226.32" y="539.27" width="13.02" height="11.07" fill="#f4d432"/>
<rect x="86.40" y="550.05" width="13.02" height="11.07" fill="#eee548"/>
<rect x="99.12" y="550.05" width="13.02" height="11.07" fill="#eee548"/>
<rect x="111.84" y="550.05" width="13.02" height="11.07" fill="#e8c86e"/>
<rect x="124.56" y="550.05" width="13.02" height="11.07" fill="#eee548"/>
<rect x="137.28" y="550.05" width="13.02" height="11.07" fill="#f4d432"/>
<rect x="150.00" y="550.05" width="13.02" height="11.07" fill="#e8c86e"/>
<rect x="162.72" y="550.05" width="13.02" height="11.07" fill="#f3b62e"/>
<rect x="175.44" y="550.05" width="13.02" height="11.07" fill="#f0962a"/>
<rect x="188.16" y="550.05" width="13.02" height="11.07" fill="#ec7626"/>
<rect x="200.88" y="550.05" width="13.02" height="11.07" fill="#f3b62e"/>
<rect x="213.60" y="550.05" width="13.02" height="11.07" fill="#f4d432"/>
<rect x="226.32" y="550.05" width="13.02" height="11.07" fill="#f4d432"/>
<rect x="86.40" y="560.82" width="13.02" height="11.07" fill="#f4d432"/>
<rect x="99.12" y="560.82" width="13.02" height="11.07" fill="#dcab92"/>
<rect x="111.84" y="560.82" width="13.02" height="11.07" fill="#e8c86e"/>
<rect x="124.56" y="560.82" width="13.02" height="11.07" fill="#eee548"/>
<rect x="137.28" y="560.82" width="13.02" height="11.07" fill="#eee548"/>
<rect x="150.00" y="560.82" width="13.02" height="11.07" fill="#e8c86e"/>
<rect x="162.72" y="560.82" width="13.02" height="11.07" fill="#eee548"/>
<rect x="175.44" y="560.82" width="13.02" height="11.07" fill="#f4d432"/>
<rect x="188.16" y="560.82" width="13.02" height="11.07" fill="#f3b62e"/>
<rect x="200.88" y="560.82" width="13.02" height="11.07" fill="#f3b62e"/>
<rect x="213.60" y="560.82" width="13.02" height="11.07" fill="#f4d432"/>
<rect x="226.32" y="560.82" width="13.02" height="11.07" fill="#eee548"/>
<rect x="86.40" y="571.60" width="13.02" height="11.07" fill="#dcab92"/>
<rect x="99.12" y="571.60" width="13.02" height="11.07" fill="#a872b4"/>
<rect x="111.84" y="571.60" width="13.02" height="11.07" fill="#eee548"/>
<rect x="124.56" y="571.60" width="13.02" height="11.07" fill="#6b3f9c"/>
<rect x="137.28" y="571.60" width="13.02" height="11.07" fill="#e8c86e"/>
<rect x="150.00" y="571.60" width="13.02" height="11.07" fill="#f4d432"/>
<rect x="162.72" y="571.60" width="13.02" height="11.07" fill="#eee548"/>
<rect x="175.44" y="571.60" width="13.02" height="11.07" fill="#eee548"/>
<rect x="188.16" y="571.60" width="13.02" height="11.07" fill="#eee548"/>
<rect x="200.88" y="571.60" width="13.02" height="11.07" fill="#eee548"/>
<rect x="213.60" y="571.60" width="13.02" height="11.07" fill="#eee548"/>
<rect x="226.32" y="571.60" width="13.02" height="11.07" fill="#eee548"/>
<rect x="86.40" y="582.38" width="13.02" height="11.07" fill="#e8c86e"/>
<rect x="99.12" y="582.38" width="13.02" height="11.07" fill="#a872b4"/>
<rect x="111.84" y="582.38" width="13.02" height="11.07" fill="#c98ea8"/>
<rect x="124.56" y="582.38" width="13.02" height="11.07" fill="#c98ea8"/>
<rect x="137.28" y="582.38" width="13.02" height="11.07" fill="#c98ea8"/>
<rect x="150.00" y="582.38" width="13.02" height="11.07" fill="#b87cae"/>
<rect x="162.72" y="582.38" width="13.02" height="11.07" fill="#e8c86e"/>
<rect x="175.44" y="582.38" width="13.02" height="11.07" fill="#eee548"/>
<rect x="188.16" y="582.38" width="13.02" height="11.07" fill="#f4d432"/>
<rect x="200.88" y="582.38" width="13.02" height="11.07" fill="#f4d432"/>
<rect x="213.60" y="582.38" width="13.02" height="11.07" fill="#eee548"/>
<rect x="226.32" y="582.38" width="13.02" height="11.07" fill="#eee548"/>
<rect x="86.40" y="593.15" width="13.02" height="11.07" fill="#e8c86e"/>
<rect x="99.12" y="593.15" width="13.02" height="11.07" fill="#e8c86e"/>
<rect x="111.84" y="593.15" width="13.02" height="11.07" fill="#e8c86e"/>
<rect x="124.56" y="593.15" width="13.02" height="11.07" fill="#e8c86e"/>
<rect x="137.28" y="593.15" width="13.02" height="11.07" fill="#e8c86e"/>
<rect x="150.00" y="593.15" width="13.02" height="11.07" fill="#dcab92"/>
<rect x="162.72" y="593.15" width="13.02" height="11.07" fill="#eee548"/>
<rect x="175.44" y="593.15" width="13.02" height="11.07" fill="#eee548"/>
<rect x="188.16" y="593.15" width="13.02" height="11.07" fill="#f4d432"/>
<rect x="200.88" y="593.15" width="13.02" height="11.07" fill="#eee548"/>
<rect x="213.60" y="593.15" width="13.02" height="11.07" fill="#e8c86e"/>
<rect x="226.32" y="593.15" width="13.02" height="11.07" fill="#e8c86e"/>
<rect x="86.40" y="603.92" width="13.02" height="11.07" fill="#e8c86e"/>
<rect x="99.12" y="603.92" width="13.02" height="11.07" fill="#e8c86e"/>
<rect x="111.84" y="603.92" width="13.02" height="11.07" fill="#e8c86e"/>
<rect x="124.56" y="603.92" width="13.02" height="11.07" fill="#dcab92"/>
<rect x="137.28" y="603.92" width="13.02" height="11.07" fill="#dcab92"/>
<rect x="150.00" y="603.92" width="13.02" height="11.07" fill="#dcab92"/>
<rect x="162.72" y="603.92" width="13.02" height="11.07" fill="#eee548"/>
<rect x="175.44" y="603.92" width="13.02" height="11.07" fill="#eee548"/>
<rect x="188.16" y="603.92" width="13.02" height="11.07" fill="#f4d432"/>
<rect x="200.88" y="603.92" width="13.02" height="11.07" fill="#e8c86e"/>
<rect x="213.60" y="603.92" width="13.02" height="11.07" fill="#f4d432"/>
<rect x="226.32" y="603.92" width="13.02" height="11.07" fill="#eee548"/>
<rect x="86.40" y="614.70" width="13.02" height="11.07" fill="#dcab92"/>
<rect x="99.12" y="614.70" width="13.02" height="11.07" fill="#e8c86e"/>
<rect x="111.84" y="614.70" width="13.02" height="11.07" fill="#e8c86e"/>
<rect x="124.56" y="614.70" width="13.02" height="11.07" fill="#e8c86e"/>
<rect x="137.28" y="614.70" width="13.02" height="11.07" fill="#eee548"/>
<rect x="150.00" y="614.70" width="13.02" height="11.07" fill="#a872b4"/>
<rect x="162.72" y="614.70" width="13.02" height="11.07" fill="#eee548"/>
<rect x="175.44" y="614.70" width="13.02" height="11.07" fill="#f4d432"/>
<rect x="188.16" y="614.70" width="13.02" height="11.07" fill="#f4d432"/>
<rect x="200.88" y="614.70" width="13.02" height="11.07" fill="#f4d432"/>
<rect x="213.60" y="614.70" width="13.02" height="11.07" fill="#eee548"/>
<rect x="226.32" y="614.70" width="13.02" height="11.07" fill="#eee548"/>
<rect x="86.40" y="625.47" width="13.02" height="11.07" fill="#eee548"/>
<rect x="99.12" y="625.47" width="13.02" height="11.07" fill="#dcab92"/>
<rect x="111.84" y="625.47" width="13.02" height="11.07" fill="#dcab92"/>
<rect x="124.56" y="625.47" width="13.02" height="11.07" fill="#e8c86e"/>
<rect x="137.28" y="625.47" width="13.02" height="11.07" fill="#dcab92"/>
<rect x="150.00" y="625.47" width="13.02" height="11.07" fill="#c98ea8"/>
<rect x="162.72" y="625.47" width="13.02" height="11.07" fill="#eee548"/>
<rect x="175.44" y="625.47" width="13.02" height="11.07" fill="#eee548"/>
<rect x="188.16" y="625.47" width="13.02" height="11.07" fill="#f4d432"/>
<rect x="200.88" y="625.47" width="13.02" height="11.07" fill="#f4d432"/>
<rect x="213.60" y="625.47" width="13.02" height="11.07" fill="#eee548"/>
<rect x="226.32" y="625.47" width="13.02" height="11.07" fill="#eee548"/>
<rect x="86.40" y="636.25" width="13.02" height="11.07" fill="#e8c86e"/>
<rect x="99.12" y="636.25" width="13.02" height="11.07" fill="#e8c86e"/>
<rect x="111.84" y="636.25" width="13.02" height="11.07" fill="#eee548"/>
<rect x="124.56" y="636.25" width="13.02" height="11.07" fill="#c98ea8"/>
<rect x="137.28" y="636.25" width="13.02" height="11.07" fill="#e8c86e"/>
<rect x="150.00" y="636.25" width="13.02" height="11.07" fill="#dcab92"/>
<rect x="162.72" y="636.25" width="13.02" height="11.07" fill="#eee548"/>
<rect x="175.44" y="636.25" width="13.02" height="11.07" fill="#eee548"/>
<rect x="188.16" y="636.25" width="13.02" height="11.07" fill="#f4d432"/>
<rect x="200.88" y="636.25" width="13.02" height="11.07" fill="#f4d432"/>
<rect x="213.60" y="636.25" width="13.02" height="11.07" fill="#eee548"/>
<rect x="226.32" y="636.25" width="13.02" height="11.07" fill="#eee548"/>
<rect x="86.40" y="647.02" width="13.02" height="11.07" fill="#e8c86e"/>
<rect x="99.12" y="647.02" width="13.02" height="11.07" fill="#c98ea8"/>
<rect x="111.84" y="647.02" width="13.02" height="11.07" fill="#dcab92"/>
<rect x="124.56" y="647.02" width="13.02" height="11.07" fill="#a872b4"/>
<rect x="137.28" y="647.02" width="13.02" height="11.07" fill="#e8c86e"/>
<rect x="150.00" y="647.02" width="13.02" height="11.07" fill="#a872b4"/>
<rect x="162.72" y="647.02" width="13.02" height="11.07" fill="#eee548"/>
<rect x="175.44" y="647.02" width="13.02" height="11.07" fill="#eee548"/>
<rect x="188.16" y="647.02" width="13.02" height="11.07" fill="#f4d432"/>
<rect x="200.88" y="647.02" width="13.02" height="11.07" fill="#f4d432"/>
<rect x="213.60" y="647.02" width="13.02" height="11.07" fill="#eee548"/>
<rect x="226.32" y="647.02" width="13.02" height="11.07" fill="#eee548"/>
<g stroke="#cdc8c6" stroke-width="0.6" opacity="0.8">
<line x1="86.4" y1="496.17" x2="239.04" y2="496.17"/>
<line x1="86.4" y1="506.95" x2="239.04" y2="506.95"/>
<line x1="86.4" y1="517.73" x2="239.04" y2="517.73"/>
<line x1="86.4" y1="528.50" x2="239.04" y2="528.50"/>
<line x1="86.4" y1="539.27" x2="239.04" y2="539.27"/>
<line x1="86.4" y1="550.05" x2="239.04" y2="550.05"/>
<line x1="86.4" y1="560.82" x2="239.04" y2="560.82"/>
<line x1="86.4" y1="571.60" x2="239.04" y2="571.60"/>
<line x1="86.4" y1="582.38" x2="239.04" y2="582.38"/>
<line x1="86.4" y1="593.15" x2="239.04" y2="593.15"/>
<line x1="86.4" y1="603.92" x2="239.04" y2="603.92"/>
<line x1="86.4" y1="614.70" x2="239.04" y2="614.70"/>
<line x1="86.4" y1="625.47" x2="239.04" y2="625.47"/>
<line x1="86.4" y1="636.25" x2="239.04" y2="636.25"/>
<line x1="86.4" y1="647.02" x2="239.04" y2="647.02"/>
<line x1="99.12" y1="485.4" x2="99.12" y2="657.8"/>
<line x1="111.84" y1="485.4" x2="111.84" y2="657.8"/>
<line x1="124.56" y1="485.4" x2="124.56" y2="657.8"/>
<line x1="137.28" y1="485.4" x2="137.28" y2="657.8"/>
<line x1="150.00" y1="485.4" x2="150.00" y2="657.8"/>
<line x1="162.72" y1="485.4" x2="162.72" y2="657.8"/>
<line x1="175.44" y1="485.4" x2="175.44" y2="657.8"/>
<line x1="188.16" y1="485.4" x2="188.16" y2="657.8"/>
<line x1="200.88" y1="485.4" x2="200.88" y2="657.8"/>
<line x1="213.60" y1="485.4" x2="213.60" y2="657.8"/>
<line x1="226.32" y1="485.4" x2="226.32" y2="657.8"/>
</g>
</g>
<rect x="162.32" y="331" width="0.8" height="326.8" fill="#fff" opacity="0.7"/>
<rect x="86.40" y="321.2" width="63.60" height="8.2" fill="#dd1428"/>
<rect x="150.00" y="321.2" width="12.72" height="8.2" fill="#3a3a9c"/>
<rect x="162.72" y="321.2" width="12.72" height="8.2" fill="#dd1428"/>
<rect x="175.44" y="321.2" width="63.60" height="8.2" fill="#3a3a9c"/>
<rect x="162.12" y="320" width="1.3" height="11" fill="#fff"/>
<text x="242.2" y="339.2" font-size="6.6" fill="#111" stroke="#111" stroke-width="0.2">IFNB1</text>
<text x="242.2" y="349.9" font-size="6.6" fill="#111" textLength="38.3" lengthAdjust="spacingAndGlyphs" stroke="#111" stroke-width="0.2">MCP1(CCL2)</text>
<text x="242.2" y="362.7" font-size="6.6" fill="#111" textLength="42.8" lengthAdjust="spacingAndGlyphs" stroke="#111" stroke-width="0.2">RIG–I(DDX58)</text>
<text x="242.2" y="373.4" font-size="6.6" fill="#111" stroke="#111" stroke-width="0.2">OAS3</text>
<text x="242.2" y="384.1" font-size="6.6" fill="#111" stroke="#111" stroke-width="0.2">IFIT3</text>
<text x="242.2" y="394.8" font-size="6.6" fill="#111" stroke="#111" stroke-width="0.2">MX2</text>
<text x="242.2" y="405.5" font-size="6.6" fill="#111" stroke="#111" stroke-width="0.2">CXCL10</text>
<text x="242.2" y="416.2" font-size="6.6" fill="#111" stroke="#111" stroke-width="0.2">IFI44</text>
<text x="242.2" y="427.0" font-size="6.6" fill="#111" stroke="#111" stroke-width="0.2">OAS2</text>
<text x="242.2" y="437.7" font-size="6.6" fill="#111" stroke="#111" stroke-width="0.2">OAS1</text>
<text x="242.2" y="448.4" font-size="6.6" fill="#111" stroke="#111" stroke-width="0.2">IFIT1</text>
<text x="242.2" y="459.1" font-size="6.6" fill="#111" stroke="#111" stroke-width="0.2">MX1</text>
<text x="242.2" y="469.8" font-size="6.6" fill="#111" stroke="#111" stroke-width="0.2">IFI27</text>
<text x="242.2" y="480.5" font-size="6.6" fill="#111" stroke="#111" stroke-width="0.2">ISG15</text>
<text x="242.2" y="493.7" font-size="6.6" fill="#111" stroke="#111" stroke-width="0.2">SOCS1</text>
<text x="242.2" y="504.5" font-size="6.6" fill="#111" stroke="#111" stroke-width="0.2">IRF7</text>
<text x="242.2" y="515.2" font-size="6.6" fill="#111" stroke="#111" stroke-width="0.2">TLR7</text>
<text x="242.2" y="526.0" font-size="6.6" fill="#111" stroke="#111" stroke-width="0.2">ZBP1</text>
<text x="242.2" y="536.8" font-size="6.6" fill="#111" stroke="#111" stroke-width="0.2">STAT 2</text>
<text x="242.2" y="547.6" font-size="6.6" fill="#111" textLength="40.2" lengthAdjust="spacingAndGlyphs" stroke="#111" stroke-width="0.2">MDA5(IFIH1)</text>
<text x="242.2" y="558.3" font-size="6.6" fill="#111" stroke="#111" stroke-width="0.2">STAT 1</text>
<text x="242.2" y="569.1" font-size="6.6" fill="#111" stroke="#111" stroke-width="0.2">LY96</text>
<text x="242.2" y="579.9" font-size="6.6" fill="#111" stroke="#111" stroke-width="0.2">IFNG</text>
<text x="242.2" y="590.7" font-size="6.6" fill="#111" stroke="#111" stroke-width="0.2">TLR8</text>
<text x="242.2" y="601.4" font-size="6.6" fill="#111" stroke="#111" stroke-width="0.2">IFI16</text>
<text x="242.2" y="612.2" font-size="6.6" fill="#111" textLength="44.1" lengthAdjust="spacingAndGlyphs" stroke="#111" stroke-width="0.2">RANTES(CCL5)</text>
<text x="242.2" y="623.0" font-size="6.6" fill="#111" stroke="#111" stroke-width="0.2">IRF9</text>
<text x="242.2" y="633.8" font-size="6.6" fill="#111" stroke="#111" stroke-width="0.2">AIM2</text>
<text x="242.2" y="644.5" font-size="6.6" fill="#111" stroke="#111" stroke-width="0.2">MYD88</text>
<text x="242.2" y="655.3" font-size="6.6" fill="#111" textLength="52.9" lengthAdjust="spacingAndGlyphs" stroke="#111" stroke-width="0.2">STING(TMEM173)</text>
<text x="95.5" y="708.1" font-size="10.0" fill="#111" textLength="45.9" lengthAdjust="spacingAndGlyphs" transform="rotate(-90 95.5 708.1)" stroke="#111" stroke-width="0.2">Young.d14</text>
<text x="108.2" y="701.8" font-size="10.0" fill="#111" textLength="39.6" lengthAdjust="spacingAndGlyphs" transform="rotate(-90 108.2 701.8)" stroke="#111" stroke-width="0.2">Young.d7</text>
<text x="120.9" y="708.1" font-size="10.0" fill="#111" textLength="45.9" lengthAdjust="spacingAndGlyphs" transform="rotate(-90 120.9 708.1)" stroke="#111" stroke-width="0.2">Young.d28</text>
<text x="133.6" y="708.1" font-size="10.0" fill="#111" textLength="45.9" lengthAdjust="spacingAndGlyphs" transform="rotate(-90 133.6 708.1)" stroke="#111" stroke-width="0.2">Young.d42</text>
<text x="146.3" y="708.1" font-size="10.0" fill="#111" textLength="45.9" lengthAdjust="spacingAndGlyphs" transform="rotate(-90 146.3 708.1)" stroke="#111" stroke-width="0.2">Young.d84</text>
<text x="159.1" y="694.9" font-size="10.0" fill="#111" textLength="32.7" lengthAdjust="spacingAndGlyphs" transform="rotate(-90 159.1 694.9)" stroke="#111" stroke-width="0.2">Old.d84</text>
<text x="171.8" y="708.1" font-size="10.0" fill="#111" textLength="45.9" lengthAdjust="spacingAndGlyphs" transform="rotate(-90 171.8 708.1)" stroke="#111" stroke-width="0.2">Young.d10</text>
<text x="184.5" y="689.5" font-size="10.0" fill="#111" textLength="27.3" lengthAdjust="spacingAndGlyphs" transform="rotate(-90 184.5 689.5)" stroke="#111" stroke-width="0.2">Old.d7</text>
<text x="197.2" y="694.9" font-size="10.0" fill="#111" textLength="32.7" lengthAdjust="spacingAndGlyphs" transform="rotate(-90 197.2 694.9)" stroke="#111" stroke-width="0.2">Old.d10</text>
<text x="209.9" y="694.9" font-size="10.0" fill="#111" textLength="32.7" lengthAdjust="spacingAndGlyphs" transform="rotate(-90 209.9 694.9)" stroke="#111" stroke-width="0.2">Old.d42</text>
<text x="222.7" y="694.9" font-size="10.0" fill="#111" textLength="32.7" lengthAdjust="spacingAndGlyphs" transform="rotate(-90 222.7 694.9)" stroke="#111" stroke-width="0.2">Old.d14</text>
<text x="235.4" y="694.9" font-size="10.0" fill="#111" textLength="32.7" lengthAdjust="spacingAndGlyphs" transform="rotate(-90 235.4 694.9)" stroke="#111" stroke-width="0.2">Old.d28</text>
<g stroke="#4a4a4a" stroke-width="0.75" fill="none">
<path d="M126.8 313V304.6H198V310.6 M104.2 315V313H143.6 M143.6 320.6V313.5H156.4V320.6 M92.8 320.6V315H104.2 M105.5 320.6V316.3H124.5V317.5 M118.2 320.6V317.5H130.9V320.6 M178.5 314.5V310.6H216.9V314.5 M169.1 320.6V314.5H188V315.9 M181.8 320.6V315.9H194.5V320.6 M207.2 320.6V314.5H226.2V317.8 M220.0 320.6V317.8H232.7V320.6"/>
</g>
<rect x="48.4" y="330.7" width="33.3" height="21.8" fill="#fff" stroke="#8a8a8a" stroke-width="0.9"/>
<rect x="48.4" y="354.1" width="33.3" height="129.0" fill="#fff" stroke="#8a8a8a" stroke-width="0.9"/>
<rect x="48.4" y="485.1" width="33.3" height="172.8" fill="#fff" stroke="#8a8a8a" stroke-width="0.9"/>
<g stroke="#3a3030" stroke-width="0.6">
<path d="M54.3 336.4H69.8M54.3 334.0V338.8M69.8 334.0V338.8" fill="none"/>
<rect x="59.7" y="333.2" width="5.4" height="6.2" fill="#dc1a28"/>
<path d="M62.5 333.2V339.5" stroke-width="0.8"/>
</g>
<g stroke="#3a3030" stroke-width="0.6">
<path d="M55.6 347.0H69.4M55.6 344.6V349.4M69.4 344.6V349.4" fill="none"/>
<rect x="60.7" y="343.9" width="7.8" height="6.2" fill="#dc1a28"/>
<path d="M64.5 343.9V350.1" stroke-width="0.8"/>
</g>
<g stroke="#3a3030" stroke-width="0.6">
<path d="M58.4 359.8H70.4M58.4 357.4V362.2M70.4 357.4V362.2" fill="none"/>
<rect x="58.4" y="356.7" width="8.0" height="6.2" fill="#f09a22"/>
<path d="M62.0 356.7V362.9" stroke-width="0.8"/>
</g>
<circle cx="50.6" cy="359.8" r="1.2" fill="#111"/>
<g stroke="#3a3030" stroke-width="0.6">
<path d="M57.2 370.5H69.8M57.2 368.1V372.9M69.8 368.1V372.9" fill="none"/>
<rect x="60.3" y="367.4" width="5.7" height="6.2" fill="#f09a22"/>
<path d="M63.0 367.4V373.6" stroke-width="0.8"/>
</g>
<g stroke="#3a3030" stroke-width="0.6">
<path d="M60.3 381.2H72.9M60.3 378.8V383.6M72.9 378.8V383.6" fill="none"/>
<rect x="60.3" y="378.1" width="7.6" height="6.2" fill="#f09a22"/>
<path d="M63.5 378.1V384.3" stroke-width="0.8"/>
</g>
<g stroke="#3a3030" stroke-width="0.6">
<path d="M59.3 391.9H72.3M59.3 389.5V394.3M72.3 389.5V394.3" fill="none"/>
<rect x="59.3" y="388.8" width="9.2" height="6.2" fill="#f09a22"/>
<path d="M63.0 388.8V395.0" stroke-width="0.8"/>
</g>
<g stroke="#3a3030" stroke-width="0.6">
<path d="M60.7 402.6H78.6M60.7 400.2V405.0M78.6 400.2V405.0" fill="none"/>
<rect x="60.7" y="399.5" width="8.4" height="6.2" fill="#f09a22"/>
<path d="M64.5 399.5V405.7" stroke-width="0.8"/>
</g>
<g stroke="#3a3030" stroke-width="0.6">
<path d="M61.0 413.3H73.2M61.0 410.9V415.7M73.2 410.9V415.7" fill="none"/>
<rect x="61.6" y="410.2" width="8.2" height="6.2" fill="#f09a22"/>
<path d="M64.5 410.2V416.4" stroke-width="0.8"/>
</g>
<g stroke="#3a3030" stroke-width="0.6">
<path d="M60.7 424.1H74.8M60.7 421.7V426.5M74.8 421.7V426.5" fill="none"/>
<rect x="60.7" y="421.0" width="9.1" height="6.2" fill="#f09a22"/>
<path d="M64.0 421.0V427.2" stroke-width="0.8"/>
</g>
<g stroke="#3a3030" stroke-width="0.6">
<path d="M58.4 434.8H75.4M58.4 432.4V437.2M75.4 432.4V437.2" fill="none"/>
<rect x="63.2" y="431.7" width="7.8" height="6.2" fill="#f09a22"/>
<path d="M66.5 431.7V437.9" stroke-width="0.8"/>
</g>
<g stroke="#3a3030" stroke-width="0.6">
<path d="M60.9 445.5H77.3M60.9 443.1V447.9M77.3 443.1V447.9" fill="none"/>
<rect x="62.2" y="442.4" width="11.1" height="6.2" fill="#f09a22"/>
<path d="M66.0 442.4V448.6" stroke-width="0.8"/>
</g>
<g stroke="#3a3030" stroke-width="0.6">
<path d="M60.7 456.2H76.1M60.7 453.8V458.6M76.1 453.8V458.6" fill="none"/>
<rect x="63.5" y="453.1" width="8.8" height="6.2" fill="#f09a22"/>
<path d="M66.0 453.1V459.3" stroke-width="0.8"/>
</g>
<g stroke="#3a3030" stroke-width="0.6">
<path d="M65.4 466.9H79.2M65.4 464.5V469.3M79.2 464.5V469.3" fill="none"/>
<rect x="68.3" y="463.8" width="5.6" height="6.2" fill="#f09a22"/>
<path d="M71.0 463.8V470.0" stroke-width="0.8"/>
</g>
<g stroke="#3a3030" stroke-width="0.6">
<path d="M63.5 477.6H80.2M63.5 475.2V480.0M80.2 475.2V480.0" fill="none"/>
<rect x="66.4" y="474.5" width="9.4" height="6.2" fill="#f09a22"/>
<path d="M70.5 474.5V480.7" stroke-width="0.8"/>
</g>
<g stroke="#3a3030" stroke-width="0.6">
<path d="M53.4 490.8H59.9M53.4 488.4V493.2M59.9 488.4V493.2" fill="none"/>
<rect x="55.3" y="487.7" width="4.4" height="6.2" fill="#2c2c86"/>
<path d="M57.5 487.7V493.9" stroke-width="0.8"/>
</g>
<g stroke="#3a3030" stroke-width="0.6">
<path d="M53.8 501.6H71.4M53.8 499.2V504.0M71.4 499.2V504.0" fill="none"/>
<rect x="58.0" y="498.5" width="8.0" height="6.2" fill="#2c2c86"/>
<path d="M62.0 498.5V504.7" stroke-width="0.8"/>
</g>
<g stroke="#3a3030" stroke-width="0.6">
<path d="M57.5 512.3H67.6M57.5 509.9V514.7M67.6 509.9V514.7" fill="none"/>
<rect x="57.5" y="509.2" width="5.3" height="6.2" fill="#2c2c86"/>
<path d="M59.5 509.2V515.4" stroke-width="0.8"/>
</g>
<g stroke="#3a3030" stroke-width="0.6">
<path d="M55.6 523.1H64.5M55.6 520.7V525.5M64.5 520.7V525.5" fill="none"/>
<rect x="58.4" y="520.0" width="4.2" height="6.2" fill="#2c2c86"/>
<path d="M60.5 520.0V526.2" stroke-width="0.8"/>
</g>
<g stroke="#3a3030" stroke-width="0.6">
<path d="M55.9 533.9H66.4M55.9 531.5V536.3M66.4 531.5V536.3" fill="none"/>
<rect x="58.8" y="530.8" width="5.0" height="6.2" fill="#2c2c86"/>
<path d="M61.0 530.8V537.0" stroke-width="0.8"/>
</g>
<g stroke="#3a3030" stroke-width="0.6">
<path d="M58.4 544.7H66.0M58.4 542.3V547.1M66.0 542.3V547.1" fill="none"/>
<rect x="58.4" y="541.6" width="5.1" height="6.2" fill="#2c2c86"/>
<path d="M61.0 541.6V547.8" stroke-width="0.8"/>
</g>
<g stroke="#3a3030" stroke-width="0.6">
<path d="M57.5 555.4H66.4M57.5 553.0V557.8M66.4 553.0V557.8" fill="none"/>
<rect x="57.5" y="552.3" width="6.3" height="6.2" fill="#2c2c86"/>
<path d="M60.0 552.3V558.5" stroke-width="0.8"/>
</g>
<g stroke="#3a3030" stroke-width="0.6">
<path d="M57.2 566.2H64.5M57.2 563.8V568.6M64.5 563.8V568.6" fill="none"/>
<rect x="58.4" y="563.1" width="3.8" height="6.2" fill="#2c2c86"/>
<path d="M60.0 563.1V569.3" stroke-width="0.8"/>
</g>
<circle cx="54.0" cy="566.2" r="1.2" fill="#111"/>
<g stroke="#3a3030" stroke-width="0.6">
<path d="M55.0 577.0H62.8M55.0 574.6V579.4M62.8 574.6V579.4" fill="none"/>
<rect x="58.6" y="573.9" width="3.8" height="6.2" fill="#2c2c86"/>
<path d="M60.5 573.9V580.1" stroke-width="0.8"/>
</g>
<g stroke="#3a3030" stroke-width="0.6">
<path d="M55.8 587.8H61.9M55.8 585.4V590.2M61.9 585.4V590.2" fill="none"/>
<rect x="55.8" y="584.7" width="5.9" height="6.2" fill="#2c2c86"/>
<path d="M58.5 584.7V590.9" stroke-width="0.8"/>
</g>
<g stroke="#3a3030" stroke-width="0.6">
<path d="M57.6 598.5H61.1M57.6 596.1V600.9M61.1 596.1V600.9" fill="none"/>
<rect x="57.8" y="595.4" width="3.1" height="6.2" fill="#2c2c86"/>
<path d="M59.3 595.4V601.6" stroke-width="0.8"/>
</g>
<g stroke="#3a3030" stroke-width="0.6">
<path d="M57.0 609.3H62.0M57.0 606.9V611.7M62.0 606.9V611.7" fill="none"/>
<rect x="57.0" y="606.2" width="3.4" height="6.2" fill="#2c2c86"/>
<path d="M58.8 606.2V612.4" stroke-width="0.8"/>
</g>
<g stroke="#3a3030" stroke-width="0.6">
<path d="M55.4 620.1H63.5M55.4 617.7V622.5M63.5 617.7V622.5" fill="none"/>
<rect x="57.8" y="617.0" width="3.4" height="6.2" fill="#2c2c86"/>
<path d="M59.5 617.0V623.2" stroke-width="0.8"/>
</g>
<g stroke="#3a3030" stroke-width="0.6">
<path d="M56.6 630.9H62.2M56.6 628.5V633.3M62.2 628.5V633.3" fill="none"/>
<rect x="56.6" y="627.8" width="5.4" height="6.2" fill="#2c2c86"/>
<path d="M59.0 627.8V634.0" stroke-width="0.8"/>
</g>
<g stroke="#3a3030" stroke-width="0.6">
<path d="M56.6 641.6H62.2M56.6 639.2V644.0M62.2 639.2V644.0" fill="none"/>
<rect x="56.6" y="638.5" width="5.4" height="6.2" fill="#2c2c86"/>
<path d="M59.0 638.5V644.7" stroke-width="0.8"/>
</g>
<g stroke="#3a3030" stroke-width="0.6">
<path d="M55.0 652.4H62.6M55.0 650.0V654.8M62.6 650.0V654.8" fill="none"/>
<rect x="55.8" y="649.3" width="6.6" height="6.2" fill="#2c2c86"/>
<path d="M59.0 649.3V655.5" stroke-width="0.8"/>
</g>
<circle cx="51.5" cy="652.4" r="1.2" fill="#111"/>
<g stroke="#666" stroke-width="0.5">
<line x1="51.5" y1="658" x2="51.5" y2="660"/>
<line x1="57.0" y1="658" x2="57.0" y2="660"/>
<line x1="62.5" y1="658" x2="62.5" y2="660"/>
<line x1="67.9" y1="658" x2="67.9" y2="660"/>
<line x1="73.4" y1="658" x2="73.4" y2="660"/>
<line x1="78.9" y1="658" x2="78.9" y2="660"/>
</g>
<text x="51.5" y="667.6" font-size="3.7" fill="#222" text-anchor="middle">−2</text>
<text x="57.0" y="667.6" font-size="3.7" fill="#222" text-anchor="middle">0</text>
<text x="62.5" y="667.6" font-size="3.7" fill="#222" text-anchor="middle">2</text>
<text x="67.9" y="667.6" font-size="3.7" fill="#222" text-anchor="middle">4</text>
<text x="73.4" y="667.6" font-size="3.7" fill="#222" text-anchor="middle">6</text>
<text x="78.9" y="667.6" font-size="3.7" fill="#222" text-anchor="middle">8</text>
<g stroke="#4a4a4a" stroke-width="0.75" fill="none">
<path d="M48.4 336.3H32.3V347H48.4 M48.4 466.9H37.8V477.6H48.4 M37.8 471.4H32.6V393.3H40.2 M44.6 368H40.2V416.4H44 M48.4 359.8H44.6V386H46 M48.4 370.5H46V391.9H48.4 M46 381.2H48.4 M48.4 402.6H44V450H45.6 M48.4 413.3H45.6V456.2H48.4 M45.6 424.1H48.4 M46.8 434.8H48.4 M46.8 445.5H48.4 M46.8 434.8V445.5 M48.4 490.8H32.3V533.5H37.1 M48.4 501.6H37.1V565.5H39.6 M42.4 541.9H39.6V589.4H42.3 M48.4 512.3H43.4V523.1 M42.4 523.1V562.7H43 M42.4 523.1H48.4 M44.9 523.1V544.7H48.4 M44.9 533.9H48.4 M48.4 555.4H43V566.2H48.4 M48.4 577.0H42.3V603H43.4 M42.3 587.8H48.4 M48.4 598.5H45.7V609.3H48.4 M43.4 603H45.7 M43.4 603V620.1H48.4 M44.7 620.1V630.9H48.4 M46.4 630.9V652.4H48.4 M46.4 641.6H48.4"/>
</g>
<text x="16.0" y="355.6" font-size="8.0" fill="#111" textLength="27.2" lengthAdjust="spacingAndGlyphs" transform="rotate(-90 16.0 355.6)" stroke="#111" stroke-width="0.2">cluster1</text>
<text x="16.0" y="446.4" font-size="8.0" fill="#111" textLength="29.0" lengthAdjust="spacingAndGlyphs" transform="rotate(-90 16.0 446.4)" stroke="#111" stroke-width="0.2">cluster2</text>
<text x="16.0" y="582.4" font-size="8.0" fill="#111" textLength="27.7" lengthAdjust="spacingAndGlyphs" transform="rotate(-90 16.0 582.4)" stroke="#111" stroke-width="0.2">cluster3</text>
<rect x="17.3" y="596.3" width="9.1" height="9.1" fill="#e3202c"/>
<rect x="17.3" y="618.8" width="9.1" height="9.1" fill="#38389c"/>
<text x="10.4" y="589.6" font-size="7.8" fill="#111" font-weight="bold" textLength="21.4" lengthAdjust="spacingAndGlyphs" transform="rotate(90 10.4 589.6)" stroke="#111" stroke-width="0.25">Young</text>
<text x="10.4" y="618.0" font-size="7.8" fill="#111" font-weight="bold" textLength="10.8" lengthAdjust="spacingAndGlyphs" transform="rotate(90 10.4 618.0)" stroke="#111" stroke-width="0.25">Old</text>
<text x="10.2" y="635.3" font-size="7.8" fill="#111" font-weight="bold" textLength="55.7" lengthAdjust="spacingAndGlyphs" transform="rotate(90 10.2 635.3)" stroke="#111" stroke-width="0.25">Log2 fold change</text>
<defs><linearGradient id="lg" x1="0" y1="0" x2="0" y2="1">
<stop offset="0" stop-color="#dd1628"/><stop offset="0.12" stop-color="#e22c28"/><stop offset="0.3" stop-color="#ec7626"/>
<stop offset="0.5" stop-color="#f3b62e"/><stop offset="0.64" stop-color="#eee548"/><stop offset="0.76" stop-color="#d4a08e"/>
<stop offset="0.88" stop-color="#6b3f9c"/><stop offset="1" stop-color="#38389a"/></linearGradient></defs>
<rect x="17.3" y="635" width="9.4" height="56" fill="url(#lg)"/>
<text x="29.0" y="641.0" font-size="8.4" fill="#111" stroke="#111" stroke-width="0.2">6</text>
<text x="29.0" y="653.4" font-size="8.4" fill="#111" stroke="#111" stroke-width="0.2">4</text>
<text x="29.0" y="665.8" font-size="8.4" fill="#111" stroke="#111" stroke-width="0.2">2</text>
<text x="29.0" y="678.2" font-size="8.4" fill="#111" stroke="#111" stroke-width="0.2">0</text>
<text x="29.0" y="690.6" font-size="8.4" fill="#111" stroke="#111" stroke-width="0.2">−2</text>
<g stroke-linecap="round">
<line x1="348.2" y1="351.3" x2="385.1" y2="458.2" stroke="#6fb58a" stroke-width="0.7" opacity="0.85"/>
<line x1="368.6" y1="396.7" x2="385.1" y2="458.2" stroke="#6fb58a" stroke-width="0.7" opacity="0.85"/>
<line x1="385.1" y1="458.2" x2="441.6" y2="408.6" stroke="#6fb58a" stroke-width="0.7" opacity="0.85"/>
<line x1="385.1" y1="458.2" x2="470.3" y2="428.4" stroke="#6fb58a" stroke-width="0.7" opacity="0.85"/>
<line x1="443.3" y1="307.5" x2="504.2" y2="345.4" stroke="#6fb58a" stroke-width="0.7" opacity="0.85"/>
<line x1="443.3" y1="307.5" x2="470.3" y2="428.4" stroke="#6fb58a" stroke-width="0.7" opacity="0.85"/>
<line x1="400.4" y1="312.0" x2="467.1" y2="349.2" stroke="#6fb58a" stroke-width="0.7" opacity="0.85"/>
<line x1="425.8" y1="338.5" x2="504.2" y2="345.4" stroke="#6fb58a" stroke-width="0.7" opacity="0.85"/>
<line x1="542.0" y1="305.7" x2="499.4" y2="383.1" stroke="#6fb58a" stroke-width="0.7" opacity="0.85"/>
<line x1="542.0" y1="305.7" x2="543.0" y2="427.8" stroke="#6fb58a" stroke-width="0.7" opacity="0.85"/>
<line x1="504.2" y1="345.4" x2="561.0" y2="392.8" stroke="#6fb58a" stroke-width="0.7" opacity="0.85"/>
<line x1="499.4" y1="383.1" x2="543.0" y2="427.8" stroke="#6fb58a" stroke-width="0.7" opacity="0.85"/>
<line x1="467.1" y1="349.2" x2="543.0" y2="427.8" stroke="#6fb58a" stroke-width="0.7" opacity="0.85"/>
<line x1="561.0" y1="392.8" x2="511.7" y2="437.5" stroke="#6fb58a" stroke-width="0.7" opacity="0.85"/>
<line x1="588.2" y1="359.6" x2="460.7" y2="387.3" stroke="#6fb58a" stroke-width="0.7" opacity="0.85"/>
<line x1="408.4" y1="416.1" x2="480.0" y2="483.3" stroke="#6fb58a" stroke-width="0.7" opacity="0.85"/>
<line x1="397.3" y1="383.7" x2="480.0" y2="483.3" stroke="#6fb58a" stroke-width="0.7" opacity="0.85"/>
<line x1="396.4" y1="358.5" x2="385.1" y2="458.2" stroke="#6fb58a" stroke-width="0.7" opacity="0.85"/>
<line x1="499.4" y1="383.1" x2="562.3" y2="465.5" stroke="#6fb58a" stroke-width="0.7" opacity="0.85"/>
<line x1="408.4" y1="416.1" x2="511.7" y2="437.5" stroke="#6fb58a" stroke-width="0.7" opacity="0.85"/>
<line x1="368.6" y1="396.7" x2="470.3" y2="428.4" stroke="#6fb58a" stroke-width="0.7" opacity="0.85"/>
<line x1="348.2" y1="351.3" x2="408.4" y2="416.1" stroke="#6fb58a" stroke-width="0.7" opacity="0.85"/>
<line x1="370.1" y1="333.4" x2="408.4" y2="416.1" stroke="#6fb58a" stroke-width="0.7" opacity="0.85"/>
<line x1="467.1" y1="349.2" x2="511.7" y2="437.5" stroke="#6fb58a" stroke-width="0.7" opacity="0.85"/>
<line x1="385.1" y1="458.2" x2="460.7" y2="387.3" stroke="#f0a0a0" stroke-width="0.7" opacity="0.8"/>
<line x1="385.1" y1="458.2" x2="499.4" y2="383.1" stroke="#f0a0a0" stroke-width="0.7" opacity="0.8"/>
<line x1="588.2" y1="359.6" x2="499.4" y2="383.1" stroke="#f0a0a0" stroke-width="0.7" opacity="0.8"/>
<line x1="588.2" y1="359.6" x2="441.6" y2="408.6" stroke="#f0a0a0" stroke-width="0.7" opacity="0.8"/>
<line x1="562.3" y1="465.5" x2="470.3" y2="428.4" stroke="#f0a0a0" stroke-width="0.7" opacity="0.8"/>
<line x1="562.3" y1="465.5" x2="511.7" y2="437.5" stroke="#f0a0a0" stroke-width="0.7" opacity="0.8"/>
<line x1="562.3" y1="465.5" x2="460.7" y2="387.3" stroke="#f0a0a0" stroke-width="0.7" opacity="0.8"/>
<line x1="561.0" y1="392.8" x2="441.6" y2="408.6" stroke="#f0a0a0" stroke-width="0.7" opacity="0.8"/>
<line x1="443.3" y1="307.5" x2="499.4" y2="383.1" stroke="#f0a0a0" stroke-width="0.7" opacity="0.8"/>
<line x1="400.4" y1="312.0" x2="460.7" y2="387.3" stroke="#f0a0a0" stroke-width="0.7" opacity="0.8"/>
<line x1="370.1" y1="333.4" x2="460.7" y2="387.3" stroke="#f0a0a0" stroke-width="0.7" opacity="0.8"/>
<line x1="368.6" y1="396.7" x2="460.7" y2="387.3" stroke="#f0a0a0" stroke-width="0.7" opacity="0.8"/>
<line x1="368.6" y1="396.7" x2="441.6" y2="408.6" stroke="#f0a0a0" stroke-width="0.7" opacity="0.8"/>
<line x1="348.2" y1="351.3" x2="441.6" y2="408.6" stroke="#f0a0a0" stroke-width="0.7" opacity="0.8"/>
<line x1="480.0" y1="483.3" x2="504.2" y2="345.4" stroke="#f0a0a0" stroke-width="0.7" opacity="0.8"/>
<line x1="370.1" y1="292.4" x2="467.1" y2="349.2" stroke="#f0a0a0" stroke-width="0.7" opacity="0.8"/>
<line x1="588.2" y1="359.6" x2="470.3" y2="428.4" stroke="#f0a0a0" stroke-width="0.7" opacity="0.8"/>
<line x1="562.3" y1="465.5" x2="441.6" y2="408.6" stroke="#f0a0a0" stroke-width="0.7" opacity="0.8"/>
<line x1="443.3" y1="307.5" x2="441.6" y2="408.6" stroke="#e0202c" stroke-width="0.72" opacity="0.95"/>
<line x1="443.3" y1="307.5" x2="470.3" y2="428.4" stroke="#e0202c" stroke-width="0.64" opacity="0.95"/>
<line x1="425.8" y1="338.5" x2="460.7" y2="387.3" stroke="#e0202c" stroke-width="1.04" opacity="0.95"/>
<line x1="425.8" y1="338.5" x2="441.6" y2="408.6" stroke="#e0202c" stroke-width="0.96" opacity="0.95"/>
<line x1="425.8" y1="338.5" x2="470.3" y2="428.4" stroke="#e0202c" stroke-width="0.72" opacity="0.95"/>
<line x1="425.8" y1="338.5" x2="499.4" y2="383.1" stroke="#e0202c" stroke-width="0.64" opacity="0.95"/>
<line x1="399.6" y1="333.9" x2="460.7" y2="387.3" stroke="#e0202c" stroke-width="0.88" opacity="0.95"/>
<line x1="399.6" y1="333.9" x2="441.6" y2="408.6" stroke="#e0202c" stroke-width="0.8" opacity="0.95"/>
<line x1="399.6" y1="333.9" x2="467.1" y2="349.2" stroke="#e0202c" stroke-width="0.72" opacity="0.95"/>
<line x1="399.6" y1="333.9" x2="470.3" y2="428.4" stroke="#e0202c" stroke-width="0.56" opacity="0.95"/>
<line x1="396.4" y1="358.5" x2="460.7" y2="387.3" stroke="#e0202c" stroke-width="1.04" opacity="0.95"/>
<line x1="396.4" y1="358.5" x2="441.6" y2="408.6" stroke="#e0202c" stroke-width="1.04" opacity="0.95"/>
<line x1="396.4" y1="358.5" x2="467.1" y2="349.2" stroke="#e0202c" stroke-width="0.8" opacity="0.95"/>
<line x1="396.4" y1="358.5" x2="470.3" y2="428.4" stroke="#e0202c" stroke-width="0.72" opacity="0.95"/>
<line x1="396.4" y1="358.5" x2="499.4" y2="383.1" stroke="#e0202c" stroke-width="0.64" opacity="0.95"/>
<line x1="397.3" y1="383.7" x2="460.7" y2="387.3" stroke="#e0202c" stroke-width="1.2" opacity="0.95"/>
<line x1="397.3" y1="383.7" x2="441.6" y2="408.6" stroke="#e0202c" stroke-width="1.2" opacity="0.95"/>
<line x1="397.3" y1="383.7" x2="467.1" y2="349.2" stroke="#e0202c" stroke-width="0.88" opacity="0.95"/>
<line x1="397.3" y1="383.7" x2="470.3" y2="428.4" stroke="#e0202c" stroke-width="0.8" opacity="0.95"/>
<line x1="397.3" y1="383.7" x2="499.4" y2="383.1" stroke="#e0202c" stroke-width="0.64" opacity="0.95"/>
<line x1="397.3" y1="383.7" x2="504.2" y2="345.4" stroke="#e0202c" stroke-width="0.56" opacity="0.95"/>
<line x1="408.4" y1="416.1" x2="441.6" y2="408.6" stroke="#e0202c" stroke-width="1.28" opacity="0.95"/>
<line x1="408.4" y1="416.1" x2="460.7" y2="387.3" stroke="#e0202c" stroke-width="1.04" opacity="0.95"/>
<line x1="408.4" y1="416.1" x2="470.3" y2="428.4" stroke="#e0202c" stroke-width="0.96" opacity="0.95"/>
<line x1="408.4" y1="416.1" x2="467.1" y2="349.2" stroke="#e0202c" stroke-width="0.72" opacity="0.95"/>
<line x1="368.6" y1="396.7" x2="408.4" y2="416.1" stroke="#e0202c" stroke-width="0.72" opacity="0.95"/>
<line x1="368.6" y1="396.7" x2="467.1" y2="349.2" stroke="#e0202c" stroke-width="0.56" opacity="0.95"/>
<line x1="400.4" y1="312.0" x2="441.6" y2="408.6" stroke="#e0202c" stroke-width="0.64" opacity="0.95"/>
<line x1="400.4" y1="312.0" x2="470.3" y2="428.4" stroke="#e0202c" stroke-width="0.56" opacity="0.95"/>
<line x1="370.1" y1="333.4" x2="441.6" y2="408.6" stroke="#e0202c" stroke-width="0.64" opacity="0.95"/>
<line x1="370.1" y1="333.4" x2="467.1" y2="349.2" stroke="#e0202c" stroke-width="0.56" opacity="0.95"/>
<line x1="480.0" y1="483.3" x2="441.6" y2="408.6" stroke="#e0202c" stroke-width="0.64" opacity="0.95"/>
<line x1="480.0" y1="483.3" x2="460.7" y2="387.3" stroke="#e0202c" stroke-width="0.64" opacity="0.95"/>
<line x1="480.0" y1="483.3" x2="470.3" y2="428.4" stroke="#e0202c" stroke-width="0.72" opacity="0.95"/>
<line x1="480.0" y1="483.3" x2="511.7" y2="437.5" stroke="#e0202c" stroke-width="1.12" opacity="0.95"/>
<line x1="480.0" y1="483.3" x2="499.4" y2="383.1" stroke="#e0202c" stroke-width="0.64" opacity="0.95"/>
<line x1="480.0" y1="483.3" x2="467.1" y2="349.2" stroke="#e0202c" stroke-width="0.56" opacity="0.95"/>
<line x1="561.0" y1="392.8" x2="499.4" y2="383.1" stroke="#e0202c" stroke-width="0.8" opacity="0.95"/>
<line x1="561.0" y1="392.8" x2="470.3" y2="428.4" stroke="#e0202c" stroke-width="0.64" opacity="0.95"/>
<line x1="561.0" y1="392.8" x2="460.7" y2="387.3" stroke="#e0202c" stroke-width="0.64" opacity="0.95"/>
<line x1="588.2" y1="359.6" x2="561.0" y2="392.8" stroke="#e0202c" stroke-width="0.64" opacity="0.95"/>
<line x1="511.7" y1="437.5" x2="460.7" y2="387.3" stroke="#e0202c" stroke-width="0.72" opacity="0.95"/>
<line x1="511.7" y1="437.5" x2="499.4" y2="383.1" stroke="#e0202c" stroke-width="0.72" opacity="0.95"/>
<line x1="511.7" y1="437.5" x2="441.6" y2="408.6" stroke="#e0202c" stroke-width="0.72" opacity="0.95"/>
<line x1="543.0" y1="427.8" x2="460.7" y2="387.3" stroke="#e0202c" stroke-width="0.64" opacity="0.95"/>
<line x1="543.0" y1="427.8" x2="470.3" y2="428.4" stroke="#e0202c" stroke-width="0.8" opacity="0.95"/>
<line x1="543.0" y1="427.8" x2="441.6" y2="408.6" stroke="#e0202c" stroke-width="0.64" opacity="0.95"/>
<line x1="562.3" y1="465.5" x2="543.0" y2="427.8" stroke="#e0202c" stroke-width="0.56" opacity="0.95"/>
<line x1="504.2" y1="345.4" x2="460.7" y2="387.3" stroke="#e0202c" stroke-width="0.72" opacity="0.95"/>
<line x1="504.2" y1="345.4" x2="441.6" y2="408.6" stroke="#e0202c" stroke-width="0.64" opacity="0.95"/>
<line x1="467.1" y1="349.2" x2="499.4" y2="383.1" stroke="#e0202c" stroke-width="0.8" opacity="0.95"/>
<line x1="470.3" y1="428.4" x2="499.4" y2="383.1" stroke="#e0202c" stroke-width="0.8" opacity="0.95"/>
<line x1="441.6" y1="408.6" x2="499.4" y2="383.1" stroke="#e0202c" stroke-width="0.96" opacity="0.95"/>
<line x1="467.1" y1="349.2" x2="470.3" y2="428.4" stroke="#e0202c" stroke-width="0.72" opacity="0.95"/>
<line x1="370.1" y1="292.4" x2="400.4" y2="312.0" stroke="#146a38" stroke-width="2.5"/>
<line x1="370.1" y1="292.4" x2="370.1" y2="333.4" stroke="#146a38" stroke-width="2.75"/>
<line x1="370.1" y1="292.4" x2="399.6" y2="333.9" stroke="#146a38" stroke-width="2.0"/>
<line x1="370.1" y1="292.4" x2="425.8" y2="338.5" stroke="#146a38" stroke-width="1.5"/>
<line x1="370.1" y1="292.4" x2="396.4" y2="358.5" stroke="#146a38" stroke-width="1.5"/>
<line x1="400.4" y1="312.0" x2="443.3" y2="307.5" stroke="#146a38" stroke-width="3.75"/>
<line x1="400.4" y1="312.0" x2="370.1" y2="333.4" stroke="#146a38" stroke-width="3.25"/>
<line x1="400.4" y1="312.0" x2="399.6" y2="333.9" stroke="#146a38" stroke-width="3.75"/>
<line x1="400.4" y1="312.0" x2="425.8" y2="338.5" stroke="#146a38" stroke-width="3.25"/>
<line x1="400.4" y1="312.0" x2="396.4" y2="358.5" stroke="#146a38" stroke-width="2.5"/>
<line x1="400.4" y1="312.0" x2="397.3" y2="383.7" stroke="#146a38" stroke-width="1.75"/>
<line x1="400.4" y1="312.0" x2="348.2" y2="351.3" stroke="#146a38" stroke-width="2.0"/>
<line x1="443.3" y1="307.5" x2="399.6" y2="333.9" stroke="#146a38" stroke-width="3.5"/>
<line x1="443.3" y1="307.5" x2="425.8" y2="338.5" stroke="#146a38" stroke-width="3.75"/>
<line x1="443.3" y1="307.5" x2="370.1" y2="333.4" stroke="#146a38" stroke-width="2.5"/>
<line x1="443.3" y1="307.5" x2="396.4" y2="358.5" stroke="#146a38" stroke-width="2.75"/>
<line x1="443.3" y1="307.5" x2="397.3" y2="383.7" stroke="#146a38" stroke-width="2.0"/>
<line x1="443.3" y1="307.5" x2="408.4" y2="416.1" stroke="#146a38" stroke-width="1.25"/>
<line x1="370.1" y1="333.4" x2="399.6" y2="333.9" stroke="#146a38" stroke-width="3.75"/>
<line x1="370.1" y1="333.4" x2="425.8" y2="338.5" stroke="#146a38" stroke-width="2.5"/>
<line x1="370.1" y1="333.4" x2="348.2" y2="351.3" stroke="#146a38" stroke-width="3.0"/>
<line x1="370.1" y1="333.4" x2="396.4" y2="358.5" stroke="#146a38" stroke-width="3.25"/>
<line x1="370.1" y1="333.4" x2="397.3" y2="383.7" stroke="#146a38" stroke-width="2.5"/>
<line x1="370.1" y1="333.4" x2="368.6" y2="396.7" stroke="#146a38" stroke-width="2.5"/>
<line x1="399.6" y1="333.9" x2="425.8" y2="338.5" stroke="#146a38" stroke-width="3.75"/>
<line x1="399.6" y1="333.9" x2="396.4" y2="358.5" stroke="#146a38" stroke-width="3.75"/>
<line x1="399.6" y1="333.9" x2="397.3" y2="383.7" stroke="#146a38" stroke-width="2.75"/>
<line x1="399.6" y1="333.9" x2="348.2" y2="351.3" stroke="#146a38" stroke-width="2.25"/>
<line x1="399.6" y1="333.9" x2="368.6" y2="396.7" stroke="#146a38" stroke-width="1.75"/>
<line x1="425.8" y1="338.5" x2="396.4" y2="358.5" stroke="#146a38" stroke-width="3.5"/>
<line x1="425.8" y1="338.5" x2="397.3" y2="383.7" stroke="#146a38" stroke-width="2.75"/>
<line x1="425.8" y1="338.5" x2="408.4" y2="416.1" stroke="#146a38" stroke-width="1.5"/>
<line x1="425.8" y1="338.5" x2="348.2" y2="351.3" stroke="#146a38" stroke-width="1.5"/>
<line x1="348.2" y1="351.3" x2="396.4" y2="358.5" stroke="#146a38" stroke-width="3.25"/>
<line x1="348.2" y1="351.3" x2="397.3" y2="383.7" stroke="#146a38" stroke-width="3.0"/>
<line x1="348.2" y1="351.3" x2="368.6" y2="396.7" stroke="#146a38" stroke-width="2.75"/>
<line x1="396.4" y1="358.5" x2="397.3" y2="383.7" stroke="#146a38" stroke-width="3.75"/>
<line x1="396.4" y1="358.5" x2="368.6" y2="396.7" stroke="#146a38" stroke-width="2.5"/>
<line x1="396.4" y1="358.5" x2="408.4" y2="416.1" stroke="#146a38" stroke-width="2.0"/>
<line x1="397.3" y1="383.7" x2="368.6" y2="396.7" stroke="#146a38" stroke-width="3.25"/>
<line x1="397.3" y1="383.7" x2="408.4" y2="416.1" stroke="#146a38" stroke-width="3.25"/>
<line x1="408.4" y1="416.1" x2="385.1" y2="458.2" stroke="#146a38" stroke-width="1.6"/>
<line x1="443.3" y1="307.5" x2="542.0" y2="305.7" stroke="#146a38" stroke-width="1.5"/>
<line x1="542.0" y1="305.7" x2="588.2" y2="359.6" stroke="#146a38" stroke-width="2.2"/>
<line x1="542.0" y1="305.7" x2="561.0" y2="392.8" stroke="#146a38" stroke-width="1.0"/>
<line x1="385.1" y1="458.2" x2="480.0" y2="483.3" stroke="#146a38" stroke-width="1.6"/>
<line x1="480.0" y1="483.3" x2="543.0" y2="427.8" stroke="#146a38" stroke-width="1.5"/>
<line x1="543.0" y1="427.8" x2="561.0" y2="392.8" stroke="#146a38" stroke-width="1.3"/>
<line x1="543.0" y1="427.8" x2="562.3" y2="465.5" stroke="#146a38" stroke-width="1.0"/>
<line x1="561.0" y1="392.8" x2="562.3" y2="465.5" stroke="#146a38" stroke-width="0.7"/>
<line x1="460.7" y1="387.3" x2="470.3" y2="428.4" stroke="#146a38" stroke-width="3.2"/>
<line x1="460.7" y1="387.3" x2="467.1" y2="349.2" stroke="#146a38" stroke-width="3.0"/>
<line x1="460.7" y1="387.3" x2="441.6" y2="408.6" stroke="#146a38" stroke-width="2.8"/>
<line x1="441.6" y1="408.6" x2="470.3" y2="428.4" stroke="#146a38" stroke-width="2.6"/>
<line x1="504.2" y1="345.4" x2="499.4" y2="383.1" stroke="#146a38" stroke-width="3.0"/>
<line x1="499.4" y1="383.1" x2="460.7" y2="387.3" stroke="#146a38" stroke-width="2.6"/>
<line x1="467.1" y1="349.2" x2="504.2" y2="345.4" stroke="#146a38" stroke-width="1.6"/>
<line x1="470.3" y1="428.4" x2="511.7" y2="437.5" stroke="#146a38" stroke-width="1.8"/>
<line x1="467.1" y1="349.2" x2="441.6" y2="408.6" stroke="#146a38" stroke-width="1.4"/>
<line x1="504.2" y1="345.4" x2="543.0" y2="427.8" stroke="#146a38" stroke-width="0.9"/>
<line x1="370.1" y1="292.4" x2="368.6" y2="396.7" stroke="#146a38" stroke-width="1.12"/>
<line x1="370.1" y1="292.4" x2="348.2" y2="351.3" stroke="#146a38" stroke-width="2.75"/>
<line x1="370.1" y1="292.4" x2="443.3" y2="307.5" stroke="#146a38" stroke-width="1.62"/>
<line x1="443.3" y1="307.5" x2="460.7" y2="387.3" stroke="#146a38" stroke-width="1.0"/>
<line x1="443.3" y1="307.5" x2="467.1" y2="349.2" stroke="#146a38" stroke-width="0.9"/>
<line x1="425.8" y1="338.5" x2="467.1" y2="349.2" stroke="#146a38" stroke-width="1.0"/>
</g>
<circle cx="370.1" cy="292.4" r="7.5" fill="#84d0de" stroke="#2a2a2a" stroke-width="0.5"/>
<circle cx="400.4" cy="312.0" r="12.0" fill="#5c3a9a" stroke="#2a2a2a" stroke-width="0.5"/>
<circle cx="443.3" cy="307.5" r="11.2" fill="#5c3a9a" stroke="#2a2a2a" stroke-width="0.5"/>
<circle cx="370.1" cy="333.4" r="11.8" fill="#5c3a9a" stroke="#2a2a2a" stroke-width="0.5"/>
<circle cx="399.6" cy="333.9" r="12.0" fill="#5c3a9a" stroke="#2a2a2a" stroke-width="0.5"/>
<circle cx="425.8" cy="338.5" r="11.2" fill="#5c3a9a" stroke="#2a2a2a" stroke-width="0.5"/>
<circle cx="348.2" cy="351.3" r="9.4" fill="#84d0de" stroke="#2a2a2a" stroke-width="0.5"/>
<circle cx="396.4" cy="358.5" r="12.0" fill="#5c3a9a" stroke="#2a2a2a" stroke-width="0.5"/>
<circle cx="397.3" cy="383.7" r="12.0" fill="#5c3a9a" stroke="#2a2a2a" stroke-width="0.5"/>
<circle cx="368.6" cy="396.7" r="10.0" fill="#5c3a9a" stroke="#2a2a2a" stroke-width="0.5"/>
<circle cx="408.4" cy="416.1" r="10.0" fill="#5c3a9a" stroke="#2a2a2a" stroke-width="0.5"/>
<circle cx="385.1" cy="458.2" r="5.4" fill="#84d0de" stroke="#2a2a2a" stroke-width="0.5"/>
<circle cx="542.0" cy="305.7" r="5.5" fill="#d01a2a" stroke="#2a2a2a" stroke-width="0.5"/>
<circle cx="588.2" cy="359.6" r="5.5" fill="#d01a2a" stroke="#2a2a2a" stroke-width="0.5"/>
<circle cx="561.0" cy="392.8" r="5.5" fill="#d01a2a" stroke="#2a2a2a" stroke-width="0.5"/>
<circle cx="562.3" cy="465.5" r="3.9" fill="#5c3a9a" stroke="#2a2a2a" stroke-width="0.5"/>
<circle cx="504.2" cy="345.4" r="8.7" fill="#7cc024" stroke="#2a2a2a" stroke-width="0.5"/>
<circle cx="467.1" cy="349.2" r="8.0" fill="#7cc024" stroke="#2a2a2a" stroke-width="0.5"/>
<circle cx="499.4" cy="383.1" r="9.7" fill="#7cc024" stroke="#2a2a2a" stroke-width="0.5"/>
<circle cx="460.7" cy="387.3" r="11.3" fill="#7cc024" stroke="#2a2a2a" stroke-width="0.5"/>
<circle cx="441.6" cy="408.6" r="10.7" fill="#7cc024" stroke="#2a2a2a" stroke-width="0.5"/>
<circle cx="470.3" cy="428.4" r="9.7" fill="#7cc024" stroke="#2a2a2a" stroke-width="0.5"/>
<circle cx="511.7" cy="437.5" r="6.5" fill="#7cc024" stroke="#2a2a2a" stroke-width="0.5"/>
<circle cx="543.0" cy="427.8" r="6.5" fill="#7cc024" stroke="#2a2a2a" stroke-width="0.5"/>
<circle cx="480.0" cy="483.3" r="5.5" fill="#7cc024" stroke="#2a2a2a" stroke-width="0.5"/>
<text x="356.8" y="297.6" font-size="14.2" fill="#0c0c0c" textLength="28.9" lengthAdjust="spacingAndGlyphs" stroke="#0c0c0c" stroke-width="0.3">TLR7</text>
<text x="381.7" y="317.9" font-size="14.2" fill="#0c0c0c" textLength="33.4" lengthAdjust="spacingAndGlyphs" stroke="#0c0c0c" stroke-width="0.3">OAS3</text>
<text x="422.5" y="312.9" font-size="14.2" fill="#0c0c0c" textLength="48.9" lengthAdjust="spacingAndGlyphs" stroke="#0c0c0c" stroke-width="0.3">CXCL10</text>
<text x="356.0" y="339.2" font-size="14.2" fill="#0c0c0c" textLength="29.0" lengthAdjust="spacingAndGlyphs" stroke="#0c0c0c" stroke-width="0.3">MX2</text>
<text x="388.0" y="339.8" font-size="14.2" fill="#0c0c0c" textLength="27.0" lengthAdjust="spacingAndGlyphs" stroke="#0c0c0c" stroke-width="0.3">IRF7</text>
<text x="415.5" y="344.2" font-size="14.2" fill="#0c0c0c" textLength="30.5" lengthAdjust="spacingAndGlyphs" stroke="#0c0c0c" stroke-width="0.3">STAT1</text>
<text x="331.5" y="357.2" font-size="14.2" fill="#0c0c0c" textLength="30.5" lengthAdjust="spacingAndGlyphs" stroke="#0c0c0c" stroke-width="0.3">IFI16</text>
<text x="383.5" y="364.4" font-size="14.2" fill="#0c0c0c" textLength="28.0" lengthAdjust="spacingAndGlyphs" stroke="#0c0c0c" stroke-width="0.3">IRF9</text>
<text x="381.5" y="389.4" font-size="14.2" fill="#0c0c0c" textLength="32.0" lengthAdjust="spacingAndGlyphs" stroke="#0c0c0c" stroke-width="0.3">AIM2</text>
<text x="350.5" y="402.5" font-size="14.2" fill="#0c0c0c" textLength="30.5" lengthAdjust="spacingAndGlyphs" stroke="#0c0c0c" stroke-width="0.3">LY96</text>
<text x="392.5" y="422.0" font-size="14.2" fill="#0c0c0c" textLength="31.0" lengthAdjust="spacingAndGlyphs" stroke="#0c0c0c" stroke-width="0.3">TLR8</text>
<text x="365.5" y="463.9" font-size="14.2" fill="#0c0c0c" textLength="33.0" lengthAdjust="spacingAndGlyphs" stroke="#0c0c0c" stroke-width="0.3">CCL5</text>
<text x="521.3" y="311.4" font-size="14.2" fill="#0c0c0c" textLength="35.6" lengthAdjust="spacingAndGlyphs" stroke="#0c0c0c" stroke-width="0.3">IFNB1</text>
<text x="569.4" y="365.3" font-size="14.2" fill="#0c0c0c" textLength="33.3" lengthAdjust="spacingAndGlyphs" stroke="#0c0c0c" stroke-width="0.3">CCL2</text>
<text x="538.1" y="398.5" font-size="14.2" fill="#0c0c0c" textLength="41.0" lengthAdjust="spacingAndGlyphs" stroke="#0c0c0c" stroke-width="0.3">SOCS1</text>
<text x="544.6" y="471.2" font-size="14.2" fill="#0c0c0c" textLength="30.7" lengthAdjust="spacingAndGlyphs" stroke="#0c0c0c" stroke-width="0.3">IFNG</text>
<text x="479.0" y="341.8" font-size="14.2" fill="#0c0c0c" textLength="53.6" lengthAdjust="spacingAndGlyphs" stroke="#0c0c0c" stroke-width="0.3">CD4Ki67</text>
<text x="442.9" y="354.9" font-size="14.2" fill="#0c0c0c" textLength="44.6" lengthAdjust="spacingAndGlyphs" stroke="#0c0c0c" stroke-width="0.3">CD8TN</text>
<text x="464.9" y="381.4" font-size="14.2" fill="#0c0c0c" textLength="71.6" lengthAdjust="spacingAndGlyphs" stroke="#0c0c0c" stroke-width="0.3">CD4TNKi67</text>
<text x="435.8" y="393.0" font-size="14.2" fill="#0c0c0c" textLength="44.2" lengthAdjust="spacingAndGlyphs" stroke="#0c0c0c" stroke-width="0.3">CD4TN</text>
<text x="431.5" y="414.4" font-size="14.2" fill="#0c0c0c" textLength="21.0" lengthAdjust="spacingAndGlyphs" stroke="#0c0c0c" stroke-width="0.3">BN</text>
<text x="450.0" y="434.4" font-size="14.2" fill="#0c0c0c" textLength="35.5" lengthAdjust="spacingAndGlyphs" stroke="#0c0c0c" stroke-width="0.3">CD4T</text>
<text x="495.5" y="444.2" font-size="14.2" fill="#0c0c0c" textLength="31.3" lengthAdjust="spacingAndGlyphs" stroke="#0c0c0c" stroke-width="0.3">Ratio</text>
<text x="517.8" y="434.0" font-size="14.2" fill="#0c0c0c" textLength="45.2" lengthAdjust="spacingAndGlyphs" stroke="#0c0c0c" stroke-width="0.3">BNKi67</text>
<text x="440.7" y="489.9" font-size="14.2" fill="#0c0c0c" textLength="72.6" lengthAdjust="spacingAndGlyphs" stroke="#0c0c0c" stroke-width="0.3">CD8TNKi67</text>
<circle cx="373.0" cy="503.9" r="2.6" fill="#d01a2a" stroke="#333" stroke-width="0.5"/>
<text x="379.5" y="508.0" font-size="10.6" fill="#0c0c0c" textLength="82.3" lengthAdjust="spacingAndGlyphs" stroke="#0c0c0c" stroke-width="0.25">Higher in young</text>
<circle cx="495.1" cy="503.9" r="2.6" fill="#5c3a9a" stroke="#333" stroke-width="0.5"/>
<text x="500.8" y="508.0" font-size="10.6" fill="#0c0c0c" textLength="61.9" lengthAdjust="spacingAndGlyphs" stroke="#0c0c0c" stroke-width="0.25">Other genes</text>
<circle cx="373.0" cy="518.2" r="2.6" fill="#84d0de" stroke="#333" stroke-width="0.5"/>
<text x="379.5" y="522.3" font-size="10.6" fill="#0c0c0c" textLength="100.5" lengthAdjust="spacingAndGlyphs" stroke="#0c0c0c" stroke-width="0.25">Only elevated in old</text>
<circle cx="495.1" cy="518.2" r="2.6" fill="#7cc024" stroke="#333" stroke-width="0.5"/>
<text x="500.8" y="522.3" font-size="10.6" fill="#0c0c0c" textLength="100.9" lengthAdjust="spacingAndGlyphs" stroke="#0c0c0c" stroke-width="0.25">Immune phenotype</text>
<rect x="475.2" y="529.5" width="0.8" height="184.5" fill="#eeeeee"/>
<rect x="318" y="529.3" width="317" height="0.8" fill="#f3f3f3"/>
<rect x="342.1" y="537.3" width="6.8" height="1.6" fill="#ee2222"/>
<text x="353.4" y="540.4" font-size="6.6" fill="#111" font-weight="bold" textLength="54.0" lengthAdjust="spacingAndGlyphs">Plasma viral load</text>
<rect x="342.1" y="548.4" width="6.8" height="1.6" fill="#bcbc22"/>
<text x="353.4" y="551.5" font-size="6.6" fill="#111" font-weight="bold" textLength="39.3" lengthAdjust="spacingAndGlyphs">CD4+ T cells</text>
<rect x="342.1" y="558.7" width="6.8" height="1.6" fill="#1a8a3c"/>
<text x="353.4" y="561.8" font-size="6.6" fill="#111" font-weight="bold" textLength="56.5" lengthAdjust="spacingAndGlyphs">Naive CD4+T cells</text>
<rect x="342.1" y="568.3" width="6.8" height="1.6" fill="#2233bb"/>
<text x="353.4" y="571.4" font-size="6.6" fill="#111" font-weight="bold" textLength="76.6" lengthAdjust="spacingAndGlyphs">Naive-T cell proliferation</text>
<rect x="342.1" y="577.9" width="6.8" height="1.6" fill="#8822aa"/>
<text x="353.4" y="581.0" font-size="6.6" fill="#111" font-weight="bold" textLength="45.0" lengthAdjust="spacingAndGlyphs">Host response</text>
<path d="M342.1 682.7C343.1 682.1 346.1 681.4 347.7 679.4C349.2 677.4 350.4 674.0 351.4 670.6C352.5 667.2 353.2 662.4 354.0 659.3C354.7 656.1 355.4 651.7 356.0 651.7C356.6 651.7 357.1 656.1 357.7 659.3C358.4 662.4 358.9 667.5 359.8 670.6C360.6 673.7 361.0 676.3 362.8 677.7C364.5 679.0 364.0 678.3 370.3 678.7C376.6 679.0 385.2 679.9 400.6 679.9C415.9 680.0 452.0 679.1 462.3 678.9" fill="none" stroke="#8822aa" stroke-width="1.35" stroke-linecap="round"/>
<path d="M342.1 676.9C343.5 675.9 347.6 673.8 350.2 670.6C352.8 667.5 355.2 662.4 357.7 658.0C360.3 653.6 363.1 647.3 365.3 644.2C367.5 641.0 368.5 639.3 370.8 639.1C373.2 638.9 375.9 640.6 379.2 642.9C382.4 645.2 386.1 649.4 390.5 653.0C394.9 656.5 400.6 661.2 405.6 664.3C410.6 667.5 416.1 670.0 420.7 671.9C425.3 673.8 429.5 674.9 433.3 675.6C437.1 676.4 440.0 676.4 443.4 676.1C446.7 675.9 450.3 675.4 453.5 674.4C456.6 673.4 460.8 670.8 462.3 670.1" fill="none" stroke="#2233bb" stroke-width="1.35" stroke-linecap="round"/>
<path d="M342.1 609.6C343.5 611.4 347.2 617.0 350.2 620.2C353.2 623.5 356.7 626.9 360.3 629.0C363.8 631.1 368.5 632.8 371.6 632.8C374.7 632.8 376.8 630.7 379.2 629.0C381.5 627.4 383.5 624.3 385.5 622.7C387.4 621.2 388.5 619.8 391.0 619.7C393.5 619.6 396.5 620.7 400.6 622.2C404.7 623.8 410.2 626.6 415.7 629.0C421.1 631.4 427.4 634.6 433.3 636.6C439.2 638.6 446.1 640.0 450.9 641.1C455.8 642.3 460.4 643.0 462.3 643.4" fill="none" stroke="#bcbc22" stroke-width="1.35" stroke-linecap="round"/>
<path d="M342.1 610.7C343.1 612.5 345.7 617.8 347.7 621.5C349.6 625.2 352.4 630.3 354.0 632.8C355.6 635.3 355.8 637.4 357.2 636.6C358.7 635.8 360.4 630.9 362.8 627.8C365.2 624.6 368.5 620.1 371.6 617.7C374.7 615.3 378.1 613.6 381.7 613.4C385.2 613.2 388.6 614.5 393.0 616.4C397.4 618.4 402.7 622.1 408.1 625.3C413.6 628.4 419.9 632.2 425.8 635.3C431.6 638.5 437.3 641.6 443.4 644.2C449.5 646.7 459.1 649.4 462.3 650.5" fill="none" stroke="#1a8a3c" stroke-width="1.35" stroke-linecap="round"/>
<path d="M347.2 658.0C348.1 654.7 350.1 643.9 352.7 637.9C355.3 631.8 359.6 625.1 362.8 621.5C365.9 617.9 368.7 616.4 371.6 616.4C374.5 616.4 377.3 618.3 380.4 621.5C383.6 624.6 387.1 631.1 390.5 635.3C393.8 639.5 397.0 643.7 400.6 646.7C404.1 649.7 407.7 652.2 411.9 653.5C416.1 654.7 420.5 654.3 425.8 654.2C431.0 654.1 437.3 653.7 443.4 653.0C449.5 652.3 459.1 650.5 462.3 649.9" fill="none" stroke="#ee2222" stroke-width="1.35" stroke-linecap="round"/>
<path d="M342.1 600.1V682.7H462.3" fill="none" stroke="#111" stroke-width="1.1"/>
<rect x="341.7" y="682.7" width="0.8" height="2" fill="#111"/>
<text x="342.1" y="691.3" font-size="5.4" fill="#111" font-weight="bold" text-anchor="middle">0</text>
<rect x="351.7" y="682.7" width="0.8" height="2" fill="#111"/>
<text x="352.1" y="691.3" font-size="5.4" fill="#111" font-weight="bold" text-anchor="middle">7</text>
<rect x="361.7" y="682.7" width="0.8" height="2" fill="#111"/>
<text x="362.1" y="691.3" font-size="5.4" fill="#111" font-weight="bold" text-anchor="middle">14</text>
<rect x="371.8" y="682.7" width="0.8" height="2" fill="#111"/>
<text x="372.2" y="691.3" font-size="5.4" fill="#111" font-weight="bold" text-anchor="middle">21</text>
<rect x="381.8" y="682.7" width="0.8" height="2" fill="#111"/>
<text x="382.2" y="691.3" font-size="5.4" fill="#111" font-weight="bold" text-anchor="middle">28</text>
<rect x="391.8" y="682.7" width="0.8" height="2" fill="#111"/>
<text x="392.2" y="691.3" font-size="5.4" fill="#111" font-weight="bold" text-anchor="middle">35</text>
<rect x="401.8" y="682.7" width="0.8" height="2" fill="#111"/>
<text x="402.2" y="691.3" font-size="5.4" fill="#111" font-weight="bold" text-anchor="middle">42</text>
<rect x="411.8" y="682.7" width="0.8" height="2" fill="#111"/>
<text x="412.2" y="691.3" font-size="5.4" fill="#111" font-weight="bold" text-anchor="middle">49</text>
<rect x="421.8" y="682.7" width="0.8" height="2" fill="#111"/>
<text x="422.2" y="691.3" font-size="5.4" fill="#111" font-weight="bold" text-anchor="middle">56</text>
<rect x="431.9" y="682.7" width="0.8" height="2" fill="#111"/>
<text x="432.2" y="691.3" font-size="5.4" fill="#111" font-weight="bold" text-anchor="middle">63</text>
<rect x="441.9" y="682.7" width="0.8" height="2" fill="#111"/>
<text x="442.3" y="691.3" font-size="5.4" fill="#111" font-weight="bold" text-anchor="middle">70</text>
<rect x="451.9" y="682.7" width="0.8" height="2" fill="#111"/>
<text x="452.3" y="691.3" font-size="5.4" fill="#111" font-weight="bold" text-anchor="middle">77</text>
<rect x="461.9" y="682.7" width="0.8" height="2" fill="#111"/>
<text x="462.3" y="691.3" font-size="5.4" fill="#111" font-weight="bold" text-anchor="middle">84</text>
<text x="388.4" y="596.8" font-size="10.8" fill="#111" font-weight="bold" textLength="28.5" lengthAdjust="spacingAndGlyphs">Young</text>
<text x="336.6" y="665.6" font-size="7.0" fill="#111" font-weight="bold" textLength="34.8" lengthAdjust="spacingAndGlyphs" transform="rotate(-90 336.6 665.6)">% of Max</text>
<path d="M345.4 698.3H388.8" stroke="#111" stroke-width="1.2"/>
<path d="M342.4 698.3l4.6 -2.6v5.2z M391.8 698.3l-4.6 -2.6v5.2z" fill="#111"/>
<path d="M397.2 698.3H459.3" stroke="#111" stroke-width="1.2"/>
<path d="M394.2 698.3l4.6 -2.6v5.2z M462.3 698.3l-4.6 -2.6v5.2z" fill="#111"/>
<text x="357.0" y="707.6" font-size="7.6" fill="#111" font-weight="bold" font-style="italic" textLength="20.1" lengthAdjust="spacingAndGlyphs">Acute</text>
<text x="410.1" y="707.6" font-size="7.6" fill="#111" font-weight="bold" font-style="italic" textLength="34.5" lengthAdjust="spacingAndGlyphs">Postacute</text>
<path d="M506.1 625.2C506.8 627.0 509.0 632.7 510.5 636.1C512.1 639.6 513.8 643.1 515.4 645.9C517.0 648.7 518.8 651.3 520.3 652.7C521.7 654.2 521.9 654.6 523.9 654.4C526.0 654.3 529.2 652.9 532.5 652.0C535.7 651.1 540.0 649.5 543.5 649.3C546.9 649.1 547.5 649.9 553.2 650.8C558.9 651.6 569.5 653.2 577.6 654.4C585.8 655.7 594.0 656.8 602.0 658.1C610.1 659.4 621.8 661.6 625.7 662.3" fill="none" stroke="#bcbc22" stroke-width="1.35" stroke-linecap="round"/>
<path d="M506.1 652.0C507.1 653.6 509.8 658.7 511.7 661.8C513.7 664.8 516.0 668.5 517.8 670.3C519.7 672.1 521.1 673.6 522.7 672.8C524.3 671.9 526.0 668.0 527.6 665.4C529.2 662.9 531.3 659.1 532.5 657.6C533.7 656.2 531.5 656.6 534.9 656.6C538.4 656.7 546.1 657.5 553.2 658.1C560.3 658.8 569.5 659.6 577.6 660.5C585.8 661.5 594.0 662.6 602.0 663.7C610.1 664.8 621.8 666.6 625.7 667.1" fill="none" stroke="#1a8a3c" stroke-width="1.35" stroke-linecap="round"/>
<path d="M510.5 672.8C511.1 669.5 513.0 660.5 514.2 653.2C515.4 645.9 516.6 635.3 517.8 628.8C519.1 622.3 520.2 617.2 521.5 614.2C522.8 611.1 523.6 610.5 525.6 610.5C527.7 610.5 530.7 612.3 533.7 614.2C536.7 616.0 540.2 619.1 543.5 621.5C546.7 623.9 549.6 626.7 553.2 628.8C556.9 630.9 560.5 632.9 565.4 634.2C570.3 635.5 576.4 636.3 582.5 636.6C588.6 637.0 596.3 636.5 602.0 636.1C607.7 635.7 612.7 635.0 616.7 634.2C620.6 633.4 624.2 631.7 625.7 631.3" fill="none" stroke="#ee2222" stroke-width="1.35" stroke-linecap="round"/>
<path d="M506.1 668.4C506.8 667.9 509.0 668.0 510.5 665.4C512.1 662.9 514.0 659.3 515.4 653.2C516.8 647.1 518.0 635.7 519.1 628.8C520.2 621.9 520.8 615.6 522.0 611.7C523.2 607.9 524.6 607.0 526.4 605.6C528.1 604.3 530.0 603.8 532.5 603.7C534.9 603.6 538.4 604.0 541.0 604.9C543.7 605.8 546.5 607.5 548.3 609.3C550.2 611.0 551.0 612.3 552.0 615.4C553.0 618.4 553.6 623.5 554.4 627.6C555.3 631.7 555.7 636.5 556.9 639.8C558.1 643.1 559.5 645.1 561.8 647.1C564.0 649.2 566.4 650.9 570.3 652.0C574.2 653.1 579.7 653.6 585.0 654.0C590.2 654.3 596.8 654.2 602.0 654.0C607.3 653.8 612.7 653.1 616.7 652.7C620.6 652.3 624.2 651.7 625.7 651.5" fill="none" stroke="#2233bb" stroke-width="1.35" stroke-linecap="round"/>
<path d="M506.1 681.3C506.8 679.1 509.0 675.8 510.5 667.9C512.1 659.9 514.0 643.1 515.4 633.7C516.7 624.3 517.8 616.3 518.6 611.7C519.3 607.2 519.6 604.3 520.0 606.4C520.4 608.4 520.7 616.1 521.0 623.9C521.3 631.7 521.6 645.7 522.0 653.2C522.4 660.8 522.5 665.6 523.4 669.1C524.4 672.5 525.5 673.0 527.6 674.0C529.7 674.9 533.1 675.0 536.1 674.7C539.2 674.4 542.6 673.4 545.9 672.3C549.2 671.1 552.4 669.1 555.7 667.9C558.9 666.6 562.6 664.9 565.4 664.7C568.3 664.5 568.7 665.3 572.8 666.6C576.8 668.0 583.7 670.8 589.8 672.8C595.9 674.7 603.4 676.7 609.4 678.1C615.3 679.5 623.0 680.8 625.7 681.3" fill="none" stroke="#8822aa" stroke-width="1.35" stroke-linecap="round"/>
<path d="M506.1 599.0V682.0H625.7" fill="none" stroke="#111" stroke-width="1.1"/>
<rect x="505.7" y="682.0" width="0.8" height="2" fill="#111"/>
<text x="506.1" y="690.3" font-size="5.4" fill="#111" font-weight="bold" text-anchor="middle">0</text>
<rect x="515.7" y="682.0" width="0.8" height="2" fill="#111"/>
<text x="516.1" y="690.3" font-size="5.4" fill="#111" font-weight="bold" text-anchor="middle">7</text>
<rect x="525.6" y="682.0" width="0.8" height="2" fill="#111"/>
<text x="526.0" y="690.3" font-size="5.4" fill="#111" font-weight="bold" text-anchor="middle">14</text>
<rect x="535.6" y="682.0" width="0.8" height="2" fill="#111"/>
<text x="536.0" y="690.3" font-size="5.4" fill="#111" font-weight="bold" text-anchor="middle">21</text>
<rect x="545.6" y="682.0" width="0.8" height="2" fill="#111"/>
<text x="546.0" y="690.3" font-size="5.4" fill="#111" font-weight="bold" text-anchor="middle">28</text>
<rect x="555.5" y="682.0" width="0.8" height="2" fill="#111"/>
<text x="555.9" y="690.3" font-size="5.4" fill="#111" font-weight="bold" text-anchor="middle">35</text>
<rect x="565.5" y="682.0" width="0.8" height="2" fill="#111"/>
<text x="565.9" y="690.3" font-size="5.4" fill="#111" font-weight="bold" text-anchor="middle">42</text>
<rect x="575.5" y="682.0" width="0.8" height="2" fill="#111"/>
<text x="575.9" y="690.3" font-size="5.4" fill="#111" font-weight="bold" text-anchor="middle">49</text>
<rect x="585.4" y="682.0" width="0.8" height="2" fill="#111"/>
<text x="585.8" y="690.3" font-size="5.4" fill="#111" font-weight="bold" text-anchor="middle">56</text>
<rect x="595.4" y="682.0" width="0.8" height="2" fill="#111"/>
<text x="595.8" y="690.3" font-size="5.4" fill="#111" font-weight="bold" text-anchor="middle">63</text>
<rect x="605.4" y="682.0" width="0.8" height="2" fill="#111"/>
<text x="605.8" y="690.3" font-size="5.4" fill="#111" font-weight="bold" text-anchor="middle">70</text>
<rect x="615.3" y="682.0" width="0.8" height="2" fill="#111"/>
<text x="615.7" y="690.3" font-size="5.4" fill="#111" font-weight="bold" text-anchor="middle">77</text>
<rect x="625.3" y="682.0" width="0.8" height="2" fill="#111"/>
<text x="625.7" y="690.3" font-size="5.4" fill="#111" font-weight="bold" text-anchor="middle">84</text>
<text x="558.1" y="595.9" font-size="10.8" fill="#111" font-weight="bold" textLength="15.1" lengthAdjust="spacingAndGlyphs">Old</text>
<text x="500.5" y="663.0" font-size="7.0" fill="#111" font-weight="bold" textLength="35.4" lengthAdjust="spacingAndGlyphs" transform="rotate(-90 500.5 663.0)">% of Max</text>
<path d="M509.4 697.6H552.4" stroke="#111" stroke-width="1.2"/>
<path d="M506.4 697.6l4.6 -2.6v5.2z M555.4 697.6l-4.6 -2.6v5.2z" fill="#111"/>
<path d="M560.8 697.6H622.7" stroke="#111" stroke-width="1.2"/>
<path d="M557.8 697.6l4.6 -2.6v5.2z M625.7 697.6l-4.6 -2.6v5.2z" fill="#111"/>
<text x="520.3" y="706.9" font-size="7.6" fill="#111" font-weight="bold" font-style="italic" textLength="20.7" lengthAdjust="spacingAndGlyphs">Acute</text>
<text x="573.5" y="706.9" font-size="7.6" fill="#111" font-weight="bold" font-style="italic" textLength="34.6" lengthAdjust="spacingAndGlyphs">Postacute</text>
</svg>
</body></html>
